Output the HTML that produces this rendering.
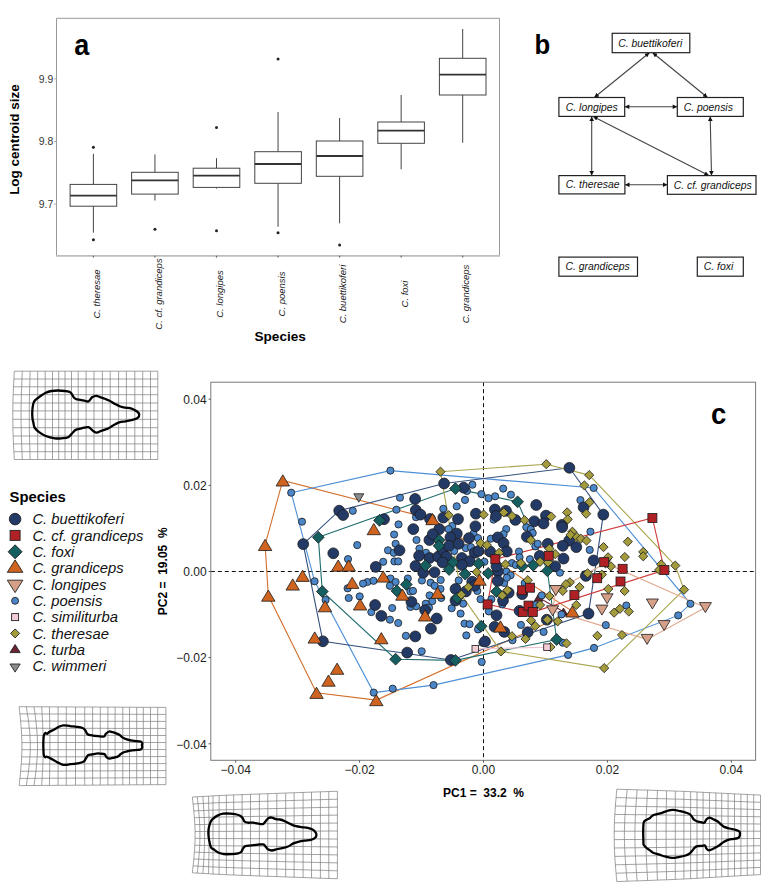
<!DOCTYPE html>
<html><head><meta charset="utf-8"><style>
html,body{margin:0;padding:0;background:#fff;}
svg{display:block;}
svg text{font-family:"Liberation Sans", sans-serif;}
</style></head><body>
<svg width="780" height="894" viewBox="0 0 780 894">
<defs><marker id="ah" viewBox="0 0 10 10" refX="10" refY="5" markerWidth="4.6" markerHeight="4.2" orient="auto-start-reverse" markerUnits="strokeWidth"><path d="M0 0L10 5L0 10Z" fill="#111"/></marker></defs>
<rect width="780" height="894" fill="#fff"/>
<g id="pa">
<path d="M56.5 255.9 L56.5 18.3 L499.5 18.3 L499.5 255.9" fill="none" stroke="#999" stroke-width="1"/><line x1="56" y1="255.9" x2="500" y2="255.9" stroke="#bdbdbd" stroke-width="1.7"/>
<text transform="translate(74.2,54.6) scale(0.9,1)" font-weight="bold" font-size="30" fill="#000">a</text>
<line x1="54.2" y1="78.8" x2="56.5" y2="78.8" stroke="#aaa" stroke-width="1"/>
<text x="53.3" y="82.5" text-anchor="end" font-size="10.4" fill="#333">9.9</text>
<line x1="54.2" y1="141.5" x2="56.5" y2="141.5" stroke="#aaa" stroke-width="1"/>
<text x="53.3" y="145.2" text-anchor="end" font-size="10.4" fill="#333">9.8</text>
<line x1="54.2" y1="204.1" x2="56.5" y2="204.1" stroke="#aaa" stroke-width="1"/>
<text x="53.3" y="207.8" text-anchor="end" font-size="10.4" fill="#333">9.7</text>
<text transform="translate(18.6,139.6) rotate(-90)" text-anchor="middle" font-weight="bold" font-size="13.45" fill="#000">Log centroid size</text>
<text x="280.2" y="340.9" text-anchor="middle" font-weight="bold" font-size="13.6" fill="#000">Species</text>
<line x1="93.4" y1="153.8" x2="93.4" y2="184.4" stroke="#444" stroke-width="1"/>
<line x1="93.4" y1="206.2" x2="93.4" y2="232.6" stroke="#444" stroke-width="1"/>
<rect x="70.1" y="184.4" width="46.6" height="21.8" fill="#fff" stroke="#444" stroke-width="1"/>
<line x1="70.1" y1="195.6" x2="116.7" y2="195.6" stroke="#333" stroke-width="1.8"/>
<circle cx="93.4" cy="147.2" r="1.5" fill="#222"/>
<circle cx="93.4" cy="239.7" r="1.5" fill="#222"/>
<line x1="93.4" y1="255.8" x2="93.4" y2="257.6" stroke="#666" stroke-width="1.2"/>
<text transform="translate(100.0,294) rotate(-90)" text-anchor="middle" font-style="italic" font-size="9.5" fill="#222">C. theresae</text>
<line x1="154.95" y1="154.4" x2="154.95" y2="172.3" stroke="#444" stroke-width="1"/>
<line x1="154.95" y1="194.1" x2="154.95" y2="200.5" stroke="#444" stroke-width="1"/>
<rect x="131.6" y="172.3" width="46.6" height="21.8" fill="#fff" stroke="#444" stroke-width="1"/>
<line x1="131.6" y1="180.3" x2="178.2" y2="180.3" stroke="#333" stroke-width="1.8"/>
<circle cx="154.95" cy="229.2" r="1.5" fill="#222"/>
<line x1="154.95" y1="255.8" x2="154.95" y2="257.6" stroke="#666" stroke-width="1.2"/>
<text transform="translate(161.5,294) rotate(-90)" text-anchor="middle" font-style="italic" font-size="9.5" fill="#222">C. cf. grandiceps</text>
<line x1="216.5" y1="158.2" x2="216.5" y2="168.2" stroke="#444" stroke-width="1"/>
<line x1="216.5" y1="187.4" x2="216.5" y2="188.6" stroke="#444" stroke-width="1"/>
<rect x="193.2" y="168.2" width="46.6" height="19.2" fill="#fff" stroke="#444" stroke-width="1"/>
<line x1="193.2" y1="175.6" x2="239.8" y2="175.6" stroke="#333" stroke-width="1.8"/>
<circle cx="216.5" cy="127.5" r="1.5" fill="#222"/>
<circle cx="216.5" cy="230.8" r="1.5" fill="#222"/>
<line x1="216.5" y1="255.8" x2="216.5" y2="257.6" stroke="#666" stroke-width="1.2"/>
<text transform="translate(223.1,294) rotate(-90)" text-anchor="middle" font-style="italic" font-size="9.5" fill="#222">C. longipes</text>
<line x1="278.05" y1="112.0" x2="278.05" y2="151.7" stroke="#444" stroke-width="1"/>
<line x1="278.05" y1="183.3" x2="278.05" y2="226.7" stroke="#444" stroke-width="1"/>
<rect x="254.8" y="151.7" width="46.6" height="31.6" fill="#fff" stroke="#444" stroke-width="1"/>
<line x1="254.8" y1="164.0" x2="301.4" y2="164.0" stroke="#333" stroke-width="1.8"/>
<circle cx="278.05" cy="59.0" r="1.5" fill="#222"/>
<circle cx="278.05" cy="232.7" r="1.5" fill="#222"/>
<line x1="278.05" y1="255.8" x2="278.05" y2="257.6" stroke="#666" stroke-width="1.2"/>
<text transform="translate(284.7,294) rotate(-90)" text-anchor="middle" font-style="italic" font-size="9.5" fill="#222">C. poensis</text>
<line x1="339.6" y1="118.0" x2="339.6" y2="141.0" stroke="#444" stroke-width="1"/>
<line x1="339.6" y1="176.3" x2="339.6" y2="223.3" stroke="#444" stroke-width="1"/>
<rect x="316.3" y="141.0" width="46.6" height="35.3" fill="#fff" stroke="#444" stroke-width="1"/>
<line x1="316.3" y1="156.0" x2="362.9" y2="156.0" stroke="#333" stroke-width="1.8"/>
<circle cx="339.6" cy="245.0" r="1.5" fill="#222"/>
<line x1="339.6" y1="255.8" x2="339.6" y2="257.6" stroke="#666" stroke-width="1.2"/>
<text transform="translate(346.2,294) rotate(-90)" text-anchor="middle" font-style="italic" font-size="9.5" fill="#222">C. buettikoferi</text>
<line x1="401.15" y1="95.0" x2="401.15" y2="122.0" stroke="#444" stroke-width="1"/>
<line x1="401.15" y1="143.3" x2="401.15" y2="169.3" stroke="#444" stroke-width="1"/>
<rect x="377.8" y="122.0" width="46.6" height="21.3" fill="#fff" stroke="#444" stroke-width="1"/>
<line x1="377.8" y1="130.7" x2="424.4" y2="130.7" stroke="#333" stroke-width="1.8"/>
<line x1="401.15" y1="255.8" x2="401.15" y2="257.6" stroke="#666" stroke-width="1.2"/>
<text transform="translate(407.8,294) rotate(-90)" text-anchor="middle" font-style="italic" font-size="9.5" fill="#222">C. foxi</text>
<line x1="462.7" y1="29.0" x2="462.7" y2="58.3" stroke="#444" stroke-width="1"/>
<line x1="462.7" y1="95.0" x2="462.7" y2="142.7" stroke="#444" stroke-width="1"/>
<rect x="439.4" y="58.3" width="46.6" height="36.7" fill="#fff" stroke="#444" stroke-width="1"/>
<line x1="439.4" y1="74.7" x2="486.0" y2="74.7" stroke="#333" stroke-width="1.8"/>
<line x1="462.7" y1="255.8" x2="462.7" y2="257.6" stroke="#666" stroke-width="1.2"/>
<text transform="translate(469.3,294) rotate(-90)" text-anchor="middle" font-style="italic" font-size="9.5" fill="#222">C. grandiceps</text>
</g>
<g id="pb">
<text transform="translate(534.6,54.3) scale(0.9,1)" font-weight="bold" font-size="28.5" fill="#000">b</text>
<rect x="612.2" y="33.3" width="77.6" height="19.4" fill="#fff" stroke="#222" stroke-width="1.2"/>
<text x="650.2" y="46.6" text-anchor="middle" font-style="italic" font-size="10.4" fill="#111">C. buettikoferi</text>
<rect x="558.9" y="97.5" width="65.8" height="18.9" fill="#fff" stroke="#222" stroke-width="1.2"/>
<text x="591.8" y="110.5" text-anchor="middle" font-style="italic" font-size="10.4" fill="#111">C. longipes</text>
<rect x="677.3" y="97.5" width="66.0" height="18.9" fill="#fff" stroke="#222" stroke-width="1.2"/>
<text x="708.3" y="110.5" text-anchor="middle" font-style="italic" font-size="10.4" fill="#111">C. poensis</text>
<rect x="558.9" y="175.6" width="66.0" height="18.3" fill="#fff" stroke="#222" stroke-width="1.2"/>
<text x="592.6" y="188.3" text-anchor="middle" font-style="italic" font-size="10.4" fill="#111">C. theresae</text>
<rect x="667.4" y="175.6" width="88.6" height="18.7" fill="#fff" stroke="#222" stroke-width="1.2"/>
<text x="712.7" y="188.5" text-anchor="middle" font-style="italic" font-size="10.4" fill="#111">C. cf. grandiceps</text>
<rect x="558.9" y="257.1" width="78.6" height="19.1" fill="#fff" stroke="#222" stroke-width="1.2"/>
<text x="597.6" y="270.2" text-anchor="middle" font-style="italic" font-size="10.4" fill="#111">C. grandiceps</text>
<rect x="697.3" y="257.1" width="46.0" height="19.1" fill="#fff" stroke="#222" stroke-width="1.2"/>
<text x="718.5" y="270.2" text-anchor="middle" font-style="italic" font-size="10.4" fill="#111">C. foxi</text>
<line x1="649.4" y1="52.7" x2="594.3" y2="97.5" stroke="#444" stroke-width="1.1" marker-start="url(#ah)" marker-end="url(#ah)"/>
<line x1="652.7" y1="52.7" x2="707.5" y2="97.5" stroke="#444" stroke-width="1.1" marker-start="url(#ah)" marker-end="url(#ah)"/>
<line x1="624.7" y1="106.7" x2="677.3" y2="106.7" stroke="#444" stroke-width="1.1" marker-start="url(#ah)" marker-end="url(#ah)"/>
<line x1="591.7" y1="116.4" x2="591.7" y2="175.6" stroke="#444" stroke-width="1.1" marker-start="url(#ah)" marker-end="url(#ah)"/>
<line x1="624.9" y1="184.8" x2="667.4" y2="184.8" stroke="#444" stroke-width="1.1" marker-start="url(#ah)" marker-end="url(#ah)"/>
<line x1="710.2" y1="116.4" x2="711.5" y2="175.6" stroke="#444" stroke-width="1.1" marker-start="url(#ah)" marker-end="url(#ah)"/>
<line x1="593.1" y1="116.4" x2="708.9" y2="175.6" stroke="#444" stroke-width="1.1" marker-start="url(#ah)" marker-end="url(#ah)"/>
</g>
<g fill="none" stroke="#7a7a7a" stroke-width="0.7">
<polyline points="14.3,371.2 18.3,371.2 22.3,371.2 26.2,371.2 30.1,371.2 33.9,371.2 37.7,371.2 41.5,371.2 45.2,371.2 48.9,371.2 52.5,371.2 55.6,371.2 58.7,371.2 61.9,371.2 65.0,371.2 68.2,371.2 71.5,371.2 74.8,371.2 78.2,371.2 82.2,371.2 86.1,371.2 90.0,371.2 94.0,371.2 98.2,371.2 102.4,371.2 106.3,371.2 110.2,371.2 114.4,371.2 118.6,371.2 122.5,371.2 126.4,371.2 130.6,371.2 134.8,371.2 138.8,371.2 142.7,371.2 146.6,371.2 150.5,371.2 154.2,371.2 157.8,371.2"/>
<polyline points="13.9,379.0 17.9,379.0 22.0,379.0 25.9,379.0 29.9,379.0 33.8,379.0 37.7,379.0 41.5,379.0 45.2,379.0 48.9,379.0 52.5,379.0 55.6,379.0 58.7,379.0 61.9,379.0 65.0,379.0 68.2,379.0 71.5,379.0 74.8,379.0 78.2,379.0 82.2,379.0 86.1,379.0 90.0,379.0 94.0,379.0 98.2,379.0 102.4,379.0 106.3,379.0 110.2,379.0 114.4,379.0 118.6,379.0 122.5,379.0 126.4,379.0 130.6,379.0 134.8,379.0 138.8,379.0 142.7,379.0 146.6,379.0 150.5,379.0 154.2,379.0 157.8,379.0"/>
<polyline points="13.5,386.8 17.6,386.8 21.7,386.8 25.7,386.8 29.7,386.8 33.7,386.8 37.7,386.8 41.5,386.8 45.2,386.8 48.9,386.8 52.5,386.8 55.6,386.8 58.7,386.8 61.9,386.8 65.0,386.8 68.2,386.8 71.5,386.8 74.8,386.8 78.2,386.8 82.2,386.8 86.1,386.8 90.0,386.8 94.0,386.8 98.2,386.8 102.4,386.8 106.3,386.8 110.2,386.8 114.4,386.8 118.6,386.8 122.5,386.8 126.4,386.8 130.6,386.8 134.8,386.8 138.8,386.8 142.7,386.8 146.6,386.8 150.5,386.8 154.2,386.8 157.8,386.8"/>
<polyline points="13.2,394.7 17.3,394.7 21.4,394.7 25.4,394.7 29.5,394.7 33.6,394.7 37.7,394.7 41.5,394.7 45.2,394.7 48.9,394.7 52.5,394.7 55.6,394.7 58.7,394.7 61.9,394.7 65.0,394.7 68.2,394.7 71.5,394.7 74.8,394.7 78.2,394.7 82.2,394.7 86.1,394.7 90.0,394.7 94.0,394.7 98.2,394.7 102.4,394.7 106.3,394.7 110.2,394.7 114.4,394.7 118.6,394.7 122.5,394.7 126.4,394.7 130.6,394.7 134.8,394.7 138.8,394.7 142.7,394.7 146.6,394.7 150.5,394.7 154.2,394.7 157.8,394.7"/>
<polyline points="12.9,403.0 17.1,403.0 21.2,403.0 25.3,403.0 29.4,403.0 33.5,403.0 37.7,403.0 41.5,403.0 45.2,403.0 48.9,403.0 52.5,403.0 55.6,403.0 58.7,403.0 61.9,403.0 65.0,403.0 68.2,403.0 71.5,403.0 74.8,403.0 78.2,403.0 82.2,403.0 86.1,403.0 90.0,403.0 94.0,403.0 98.2,403.0 102.4,403.0 106.3,403.0 110.2,403.0 114.4,403.0 118.6,403.0 122.5,403.0 126.4,403.0 130.6,403.0 134.8,403.0 138.8,403.0 142.7,403.0 146.6,403.0 150.5,403.0 154.2,403.0 157.8,403.0"/>
<polyline points="12.8,410.9 17.0,410.9 21.1,410.9 25.2,410.9 29.3,410.9 33.5,410.9 37.7,410.9 41.5,410.9 45.2,410.9 48.9,410.9 52.5,410.9 55.6,410.9 58.7,410.9 61.9,410.9 65.0,410.9 68.2,410.9 71.5,410.9 74.8,410.9 78.2,410.9 82.2,410.9 86.1,410.9 90.0,410.9 94.0,410.9 98.2,410.9 102.4,410.9 106.3,410.9 110.2,410.9 114.4,410.9 118.6,410.9 122.5,410.9 126.4,410.9 130.6,410.9 134.8,410.9 138.8,410.9 142.7,410.9 146.6,410.9 150.5,410.9 154.2,410.9 157.8,410.9"/>
<polyline points="12.8,419.3 17.0,419.3 21.1,419.3 25.2,419.3 29.3,419.3 33.5,419.3 37.7,419.3 41.5,419.3 45.2,419.3 48.9,419.3 52.5,419.3 55.6,419.3 58.7,419.3 61.9,419.3 65.0,419.3 68.2,419.3 71.5,419.3 74.8,419.3 78.2,419.3 82.2,419.3 86.1,419.3 90.0,419.3 94.0,419.3 98.2,419.3 102.4,419.3 106.3,419.3 110.2,419.3 114.4,419.3 118.6,419.3 122.5,419.3 126.4,419.3 130.6,419.3 134.8,419.3 138.8,419.3 142.7,419.3 146.6,419.3 150.5,419.3 154.2,419.3 157.8,419.3"/>
<polyline points="12.9,427.7 17.1,427.7 21.2,427.7 25.3,427.7 29.4,427.7 33.5,427.7 37.7,427.7 41.5,427.7 45.2,427.7 48.9,427.7 52.5,427.7 55.6,427.7 58.7,427.7 61.9,427.7 65.0,427.7 68.2,427.7 71.5,427.7 74.8,427.7 78.2,427.7 82.2,427.7 86.1,427.7 90.0,427.7 94.0,427.7 98.2,427.7 102.4,427.7 106.3,427.7 110.2,427.7 114.4,427.7 118.6,427.7 122.5,427.7 126.4,427.7 130.6,427.7 134.8,427.7 138.8,427.7 142.7,427.7 146.6,427.7 150.5,427.7 154.2,427.7 157.8,427.7"/>
<polyline points="13.2,436.0 17.3,436.0 21.4,436.0 25.4,436.0 29.5,436.0 33.6,436.0 37.7,436.0 41.5,436.0 45.2,436.0 48.9,436.0 52.5,436.0 55.6,436.0 58.7,436.0 61.9,436.0 65.0,436.0 68.2,436.0 71.5,436.0 74.8,436.0 78.2,436.0 82.2,436.0 86.1,436.0 90.0,436.0 94.0,436.0 98.2,436.0 102.4,436.0 106.3,436.0 110.2,436.0 114.4,436.0 118.6,436.0 122.5,436.0 126.4,436.0 130.6,436.0 134.8,436.0 138.8,436.0 142.7,436.0 146.6,436.0 150.5,436.0 154.2,436.0 157.8,436.0"/>
<polyline points="13.5,443.9 17.6,443.9 21.7,443.9 25.7,443.9 29.7,443.9 33.7,443.9 37.7,443.9 41.5,443.9 45.2,443.9 48.9,443.9 52.5,443.9 55.6,443.9 58.7,443.9 61.9,443.9 65.0,443.9 68.2,443.9 71.5,443.9 74.8,443.9 78.2,443.9 82.2,443.9 86.1,443.9 90.0,443.9 94.0,443.9 98.2,443.9 102.4,443.9 106.3,443.9 110.2,443.9 114.4,443.9 118.6,443.9 122.5,443.9 126.4,443.9 130.6,443.9 134.8,443.9 138.8,443.9 142.7,443.9 146.6,443.9 150.5,443.9 154.2,443.9 157.8,443.9"/>
<polyline points="13.9,451.7 17.9,451.7 22.0,451.7 25.9,451.7 29.9,451.7 33.8,451.7 37.7,451.7 41.5,451.7 45.2,451.7 48.9,451.7 52.5,451.7 55.6,451.7 58.7,451.7 61.9,451.7 65.0,451.7 68.2,451.7 71.5,451.7 74.8,451.7 78.2,451.7 82.2,451.7 86.1,451.7 90.0,451.7 94.0,451.7 98.2,451.7 102.4,451.7 106.3,451.7 110.2,451.7 114.4,451.7 118.6,451.7 122.5,451.7 126.4,451.7 130.6,451.7 134.8,451.7 138.8,451.7 142.7,451.7 146.6,451.7 150.5,451.7 154.2,451.7 157.8,451.7"/>
<polyline points="14.3,459.5 18.3,459.5 22.3,459.5 26.2,459.5 30.1,459.5 33.9,459.5 37.7,459.5 41.5,459.5 45.2,459.5 48.9,459.5 52.5,459.5 55.6,459.5 58.7,459.5 61.9,459.5 65.0,459.5 68.2,459.5 71.5,459.5 74.8,459.5 78.2,459.5 82.2,459.5 86.1,459.5 90.0,459.5 94.0,459.5 98.2,459.5 102.4,459.5 106.3,459.5 110.2,459.5 114.4,459.5 118.6,459.5 122.5,459.5 126.4,459.5 130.6,459.5 134.8,459.5 138.8,459.5 142.7,459.5 146.6,459.5 150.5,459.5 154.2,459.5 157.8,459.5"/>
<polyline points="14.3,371.2 14.1,375.1 13.9,379.0 13.7,382.9 13.5,386.8 13.3,390.8 13.2,394.7 13.0,398.9 12.9,403.0 12.9,406.9 12.8,410.9 12.8,415.1 12.8,419.3 12.9,423.5 12.9,427.7 13.0,431.9 13.2,436.0 13.3,439.9 13.5,443.9 13.7,447.8 13.9,451.7 14.1,455.6 14.3,459.5"/>
<polyline points="22.3,371.2 22.1,375.1 22.0,379.0 21.8,382.9 21.7,386.8 21.5,390.8 21.4,394.7 21.3,398.9 21.2,403.0 21.1,406.9 21.1,410.9 21.1,415.1 21.1,419.3 21.1,423.5 21.2,427.7 21.3,431.9 21.4,436.0 21.5,440.0 21.7,443.9 21.8,447.8 22.0,451.7 22.1,455.6 22.3,459.5"/>
<polyline points="30.1,371.2 30.0,375.1 29.9,379.0 29.8,382.9 29.7,386.8 29.6,390.8 29.5,394.7 29.4,398.9 29.4,403.0 29.3,406.9 29.3,410.9 29.3,415.1 29.3,419.3 29.3,423.5 29.4,427.7 29.4,431.9 29.5,436.0 29.6,439.9 29.7,443.9 29.8,447.8 29.9,451.7 30.0,455.6 30.1,459.5"/>
<polyline points="37.7,371.2 37.7,375.1 37.7,379.0 37.7,382.9 37.7,386.8 37.7,390.8 37.7,394.7 37.7,398.9 37.7,403.0 37.7,406.9 37.7,410.9 37.7,415.1 37.7,419.3 37.7,423.5 37.7,427.7 37.7,431.9 37.7,436.0 37.7,439.9 37.7,443.9 37.7,447.8 37.7,451.7 37.7,455.6 37.7,459.5"/>
<polyline points="45.2,371.2 45.2,375.1 45.2,379.0 45.2,382.9 45.2,386.8 45.2,390.8 45.2,394.7 45.2,398.9 45.2,403.0 45.2,406.9 45.2,410.9 45.2,415.1 45.2,419.3 45.2,423.5 45.2,427.7 45.2,431.9 45.2,436.0 45.2,439.9 45.2,443.9 45.2,447.8 45.2,451.7 45.2,455.6 45.2,459.5"/>
<polyline points="52.5,371.2 52.5,375.1 52.5,379.0 52.5,382.9 52.5,386.8 52.5,390.8 52.5,394.7 52.5,398.9 52.5,403.0 52.5,407.0 52.5,410.9 52.5,415.1 52.5,419.3 52.5,423.5 52.5,427.7 52.5,431.9 52.5,436.0 52.5,440.0 52.5,443.9 52.5,447.8 52.5,451.7 52.5,455.6 52.5,459.5"/>
<polyline points="58.7,371.2 58.7,375.1 58.7,379.0 58.7,382.9 58.7,386.8 58.7,390.8 58.7,394.7 58.7,398.9 58.7,403.0 58.7,406.9 58.7,410.9 58.7,415.1 58.7,419.3 58.7,423.5 58.7,427.7 58.7,431.9 58.7,436.0 58.7,440.0 58.7,443.9 58.7,447.8 58.7,451.7 58.7,455.6 58.7,459.5"/>
<polyline points="65.0,371.2 65.0,375.1 65.0,379.0 65.0,382.9 65.0,386.8 65.0,390.8 65.0,394.7 65.0,398.9 65.0,403.0 65.0,406.9 65.0,410.9 65.0,415.1 65.0,419.3 65.0,423.5 65.0,427.7 65.0,431.9 65.0,436.0 65.0,439.9 65.0,443.9 65.0,447.8 65.0,451.7 65.0,455.6 65.0,459.5"/>
<polyline points="71.5,371.2 71.5,375.1 71.5,379.0 71.5,382.9 71.5,386.8 71.5,390.8 71.5,394.7 71.5,398.9 71.5,403.0 71.5,406.9 71.5,410.9 71.5,415.1 71.5,419.3 71.5,423.5 71.5,427.7 71.5,431.9 71.5,436.0 71.5,439.9 71.5,443.9 71.5,447.8 71.5,451.7 71.5,455.6 71.5,459.5"/>
<polyline points="78.2,371.2 78.2,375.1 78.2,379.0 78.2,382.9 78.2,386.8 78.2,390.8 78.2,394.7 78.2,398.9 78.2,403.0 78.2,407.0 78.2,410.9 78.2,415.1 78.2,419.3 78.2,423.5 78.2,427.7 78.2,431.9 78.2,436.0 78.2,440.0 78.2,443.9 78.2,447.8 78.2,451.7 78.2,455.6 78.2,459.5"/>
<polyline points="86.1,371.2 86.1,375.1 86.1,379.0 86.1,382.9 86.1,386.8 86.1,390.8 86.1,394.7 86.1,398.9 86.1,403.0 86.1,406.9 86.1,410.9 86.1,415.1 86.1,419.3 86.1,423.5 86.1,427.7 86.1,431.9 86.1,436.0 86.1,439.9 86.1,443.9 86.1,447.8 86.1,451.7 86.1,455.6 86.1,459.5"/>
<polyline points="94.0,371.2 94.0,375.1 94.0,379.0 94.0,382.9 94.0,386.8 94.0,390.8 94.0,394.7 94.0,398.9 94.0,403.0 94.0,406.9 94.0,410.9 94.0,415.1 94.0,419.3 94.0,423.5 94.0,427.7 94.0,431.9 94.0,436.0 94.0,439.9 94.0,443.9 94.0,447.8 94.0,451.7 94.0,455.6 94.0,459.5"/>
<polyline points="102.4,371.2 102.4,375.1 102.4,379.0 102.4,382.9 102.4,386.8 102.4,390.8 102.4,394.7 102.4,398.9 102.4,403.0 102.4,406.9 102.4,410.9 102.4,415.1 102.4,419.3 102.4,423.5 102.4,427.7 102.4,431.9 102.4,436.0 102.4,440.0 102.4,443.9 102.4,447.8 102.4,451.7 102.4,455.6 102.4,459.5"/>
<polyline points="110.2,371.2 110.2,375.1 110.2,379.0 110.2,382.9 110.2,386.8 110.2,390.8 110.2,394.7 110.2,398.9 110.2,403.0 110.2,406.9 110.2,410.9 110.2,415.1 110.2,419.3 110.2,423.5 110.2,427.7 110.2,431.9 110.2,436.0 110.2,440.0 110.2,443.9 110.2,447.8 110.2,451.7 110.2,455.6 110.2,459.5"/>
<polyline points="118.6,371.2 118.6,375.1 118.6,379.0 118.6,382.9 118.6,386.8 118.6,390.8 118.6,394.7 118.6,398.9 118.6,403.0 118.6,406.9 118.6,410.9 118.6,415.1 118.6,419.3 118.6,423.5 118.6,427.7 118.6,431.9 118.6,436.0 118.6,439.9 118.6,443.9 118.6,447.8 118.6,451.7 118.6,455.6 118.6,459.5"/>
<polyline points="126.4,371.2 126.4,375.1 126.4,379.0 126.4,382.9 126.4,386.8 126.4,390.8 126.4,394.7 126.4,398.9 126.4,403.0 126.4,406.9 126.4,410.9 126.4,415.1 126.4,419.3 126.4,423.5 126.4,427.7 126.4,431.9 126.4,436.0 126.4,439.9 126.4,443.9 126.4,447.8 126.4,451.7 126.4,455.6 126.4,459.5"/>
<polyline points="134.8,371.2 134.8,375.1 134.8,379.0 134.8,382.9 134.8,386.8 134.8,390.8 134.8,394.7 134.8,398.9 134.8,403.0 134.8,406.9 134.8,410.9 134.8,415.1 134.8,419.3 134.8,423.5 134.8,427.7 134.8,431.9 134.8,436.0 134.8,439.9 134.8,443.9 134.8,447.8 134.8,451.7 134.8,455.6 134.8,459.5"/>
<polyline points="142.7,371.2 142.7,375.1 142.7,379.0 142.7,382.9 142.7,386.8 142.7,390.8 142.7,394.7 142.7,398.9 142.7,403.0 142.7,406.9 142.7,410.9 142.7,415.1 142.7,419.3 142.7,423.5 142.7,427.7 142.7,431.9 142.7,436.0 142.7,439.9 142.7,443.9 142.7,447.8 142.7,451.7 142.7,455.6 142.7,459.5"/>
<polyline points="150.5,371.2 150.5,375.1 150.5,379.0 150.5,382.9 150.5,386.8 150.5,390.8 150.5,394.7 150.5,398.9 150.5,403.0 150.5,407.0 150.5,410.9 150.5,415.1 150.5,419.3 150.5,423.5 150.5,427.7 150.5,431.9 150.5,436.0 150.5,439.9 150.5,443.9 150.5,447.8 150.5,451.7 150.5,455.6 150.5,459.5"/>
<polyline points="157.8,371.2 157.8,375.1 157.8,379.0 157.8,382.9 157.8,386.8 157.8,390.8 157.8,394.7 157.8,398.9 157.8,403.0 157.8,406.9 157.8,410.9 157.8,415.1 157.8,419.3 157.8,423.5 157.8,427.7 157.8,431.9 157.8,436.0 157.8,439.9 157.8,443.9 157.8,447.8 157.8,451.7 157.8,455.6 157.8,459.5"/>
</g>
<path d="M32.4 409.7 C32.6 407.3 33.0 404.7 33.5 403.0 C34.0 401.3 34.6 400.8 35.7 399.7 C36.8 398.6 38.5 397.5 40.2 396.3 C41.9 395.1 43.9 393.6 45.8 392.7 C47.7 391.8 49.3 391.4 51.4 391.0 C53.5 390.6 55.9 390.5 58.1 390.5 C60.3 390.5 62.8 390.7 64.8 391.0 C66.8 391.3 68.9 391.3 70.4 392.4 C72.0 393.5 73.0 396.6 74.1 397.8 C75.2 399.0 75.7 399.0 77.2 399.4 C78.7 399.8 81.4 400.1 83.3 400.4 C85.2 400.7 87.0 401.9 88.5 401.4 C90.0 400.9 90.8 398.2 92.1 397.3 C93.4 396.4 94.8 395.8 96.2 395.8 C97.7 395.8 99.3 396.8 100.8 397.3 C102.2 397.8 103.4 398.2 104.9 398.8 C106.4 399.4 108.3 400.0 110.0 400.9 C111.7 401.8 113.4 403.1 115.1 404.0 C116.8 404.9 118.6 405.9 120.3 406.5 C122.0 407.1 123.5 407.2 125.4 407.6 C127.3 408.0 129.6 408.0 131.5 408.6 C133.4 409.2 135.4 410.3 136.7 411.2 C138.0 412.1 139.0 413.1 139.2 414.2 C139.4 415.3 138.8 416.9 137.7 417.8 C136.6 418.8 134.6 419.3 132.6 419.9 C130.6 420.5 127.6 421.0 125.4 421.4 C123.2 421.8 121.2 421.7 119.2 422.4 C117.2 423.1 115.0 424.5 113.1 425.5 C111.2 426.5 109.8 427.8 107.9 428.6 C106.0 429.5 103.7 429.9 101.8 430.6 C99.9 431.3 98.2 432.7 96.7 432.7 C95.2 432.7 94.0 431.5 92.6 430.6 C91.2 429.7 90.2 427.5 88.5 427.1 C86.8 426.7 84.3 427.7 82.3 428.1 C80.2 428.5 77.7 428.9 76.2 429.6 C74.7 430.3 74.4 430.9 73.1 432.2 C71.8 433.5 70.1 436.2 68.2 437.2 C66.3 438.2 63.7 438.1 61.5 438.3 C59.3 438.5 57.4 438.7 54.8 438.3 C52.2 437.9 48.4 437.0 45.8 436.0 C43.2 435.0 41.0 433.5 39.1 432.1 C37.2 430.7 35.5 429.1 34.6 427.6 C33.7 426.1 33.9 424.9 33.5 423.2 C33.1 421.5 32.6 419.9 32.4 417.6 C32.2 415.4 32.2 412.1 32.4 409.7Z" fill="none" stroke="#000" stroke-width="2.3" stroke-linejoin="round"/>
<g fill="none" stroke="#7a7a7a" stroke-width="0.7">
<polyline points="19.1,706.7 22.7,706.7 26.3,706.7 30.1,706.8 34.0,706.8 37.9,706.8 41.7,706.8 45.5,706.8 49.4,706.8 53.8,706.9 58.1,706.9 62.2,706.9 66.3,706.9 70.9,706.9 75.5,707.0 80.1,707.0 84.7,707.0 88.7,707.0 92.6,707.0 96.4,707.0 100.3,707.1 104.1,707.1 107.9,707.1 111.5,707.1 115.1,707.1 118.9,707.2 122.8,707.2 126.2,707.2 129.5,707.2 133.1,707.2 136.7,707.3 140.0,707.3 143.3,707.3 146.9,707.3 150.5,707.3 154.1,707.3 157.7,707.4 161.8,707.4 165.9,707.4"/>
<polyline points="19.9,713.9 23.7,713.9 27.4,713.9 31.2,713.9 35.0,713.9 38.6,713.9 42.1,714.0 45.8,714.0 49.5,714.0 53.8,714.0 58.1,714.0 62.2,714.0 66.3,714.0 70.9,714.1 75.5,714.1 80.1,714.1 84.7,714.1 88.7,714.1 92.6,714.1 96.4,714.1 100.3,714.2 104.1,714.2 107.9,714.2 111.5,714.2 115.1,714.2 118.9,714.2 122.8,714.2 126.2,714.3 129.5,714.3 133.1,714.3 136.7,714.3 140.0,714.3 143.3,714.3 146.9,714.3 150.5,714.4 154.1,714.4 157.7,714.4 161.8,714.4 165.9,714.4"/>
<polyline points="20.6,721.0 24.5,721.1 28.5,721.1 32.2,721.1 35.9,721.1 39.2,721.1 42.5,721.1 46.1,721.1 49.7,721.1 53.9,721.1 58.1,721.1 62.2,721.2 66.3,721.2 70.9,721.2 75.5,721.2 80.1,721.2 84.7,721.2 88.7,721.2 92.6,721.2 96.4,721.2 100.3,721.3 104.1,721.3 107.9,721.3 111.5,721.3 115.1,721.3 118.9,721.3 122.8,721.3 126.2,721.3 129.5,721.3 133.1,721.3 136.7,721.4 140.0,721.4 143.3,721.4 146.9,721.4 150.5,721.4 154.1,721.4 157.7,721.4 161.8,721.4 165.9,721.4"/>
<polyline points="21.2,728.2 25.3,728.2 29.3,728.2 33.0,728.2 36.6,728.2 39.7,728.2 42.8,728.3 46.3,728.3 49.8,728.3 53.9,728.3 58.1,728.3 62.2,728.3 66.3,728.3 70.9,728.3 75.5,728.3 80.1,728.3 84.7,728.3 88.7,728.3 92.6,728.3 96.4,728.3 100.3,728.3 104.1,728.3 107.9,728.4 111.5,728.4 115.1,728.4 118.9,728.4 122.8,728.4 126.2,728.4 129.5,728.4 133.1,728.4 136.7,728.4 140.0,728.4 143.3,728.4 146.9,728.4 150.5,728.4 154.1,728.4 157.7,728.4 161.8,728.4 165.9,728.5"/>
<polyline points="21.6,735.4 25.8,735.4 29.9,735.4 33.6,735.4 37.2,735.4 40.1,735.4 43.1,735.4 46.5,735.4 49.9,735.4 54.0,735.4 58.1,735.4 62.2,735.4 66.3,735.4 70.9,735.4 75.5,735.4 80.1,735.4 84.7,735.4 88.7,735.4 92.6,735.4 96.4,735.4 100.3,735.4 104.1,735.4 107.9,735.4 111.5,735.4 115.1,735.4 118.9,735.4 122.8,735.4 126.2,735.4 129.5,735.5 133.1,735.5 136.7,735.5 140.0,735.5 143.3,735.5 146.9,735.5 150.5,735.5 154.1,735.5 157.7,735.5 161.8,735.5 165.9,735.5"/>
<polyline points="21.9,742.6 26.1,742.6 30.3,742.6 33.9,742.6 37.5,742.6 40.3,742.6 43.2,742.6 46.5,742.6 49.9,742.5 54.0,742.5 58.1,742.5 62.2,742.5 66.3,742.5 70.9,742.5 75.5,742.5 80.1,742.5 84.7,742.5 88.7,742.5 92.6,742.5 96.4,742.5 100.3,742.5 104.1,742.5 107.9,742.5 111.5,742.5 115.1,742.5 118.9,742.5 122.8,742.5 126.2,742.5 129.5,742.5 133.1,742.5 136.7,742.5 140.0,742.5 143.3,742.5 146.9,742.5 150.5,742.5 154.1,742.5 157.7,742.5 161.8,742.5 165.9,742.5"/>
<polyline points="21.9,749.7 26.1,749.7 30.3,749.7 33.9,749.7 37.5,749.7 40.3,749.7 43.2,749.7 46.5,749.7 49.9,749.7 54.0,749.7 58.1,749.7 62.2,749.7 66.3,749.7 70.9,749.7 75.5,749.7 80.1,749.6 84.7,749.6 88.7,749.6 92.6,749.6 96.4,749.6 100.3,749.6 104.1,749.6 107.9,749.6 111.5,749.6 115.1,749.6 118.9,749.6 122.8,749.6 126.2,749.6 129.5,749.6 133.1,749.6 136.7,749.6 140.0,749.6 143.3,749.5 146.9,749.5 150.5,749.5 154.1,749.5 157.7,749.5 161.8,749.5 165.9,749.5"/>
<polyline points="21.6,756.9 25.8,756.9 29.9,756.9 33.6,756.9 37.2,756.9 40.1,756.9 43.1,756.8 46.5,756.8 49.9,756.8 54.0,756.8 58.1,756.8 62.2,756.8 66.3,756.8 70.9,756.8 75.5,756.8 80.1,756.8 84.7,756.7 88.7,756.7 92.6,756.7 96.4,756.7 100.3,756.7 104.1,756.7 107.9,756.7 111.5,756.7 115.1,756.7 118.9,756.7 122.8,756.6 126.2,756.6 129.5,756.6 133.1,756.6 136.7,756.6 140.0,756.6 143.3,756.6 146.9,756.6 150.5,756.6 154.1,756.6 157.7,756.5 161.8,756.5 165.9,756.5"/>
<polyline points="21.2,764.1 25.3,764.1 29.3,764.1 33.0,764.0 36.6,764.0 39.7,764.0 42.8,764.0 46.3,764.0 49.8,764.0 53.9,764.0 58.1,763.9 62.2,763.9 66.3,763.9 70.9,763.9 75.5,763.9 80.1,763.9 84.7,763.9 88.7,763.8 92.6,763.8 96.4,763.8 100.3,763.8 104.1,763.8 107.9,763.8 111.5,763.8 115.1,763.7 118.9,763.7 122.8,763.7 126.2,763.7 129.5,763.7 133.1,763.7 136.7,763.7 140.0,763.6 143.3,763.6 146.9,763.6 150.5,763.6 154.1,763.6 157.7,763.6 161.8,763.6 165.9,763.5"/>
<polyline points="20.6,771.3 24.5,771.2 28.5,771.2 32.2,771.2 35.9,771.2 39.2,771.2 42.5,771.1 46.1,771.1 49.7,771.1 53.9,771.1 58.1,771.1 62.2,771.1 66.3,771.0 70.9,771.0 75.5,771.0 80.1,771.0 84.7,771.0 88.7,770.9 92.6,770.9 96.4,770.9 100.3,770.9 104.1,770.9 107.9,770.9 111.5,770.8 115.1,770.8 118.9,770.8 122.8,770.8 126.2,770.8 129.5,770.7 133.1,770.7 136.7,770.7 140.0,770.7 143.3,770.7 146.9,770.7 150.5,770.6 154.1,770.6 157.7,770.6 161.8,770.6 165.9,770.6"/>
<polyline points="19.9,778.4 23.7,778.4 27.4,778.4 31.2,778.4 35.0,778.3 38.6,778.3 42.1,778.3 45.8,778.3 49.5,778.2 53.8,778.2 58.1,778.2 62.2,778.2 66.3,778.2 70.9,778.1 75.5,778.1 80.1,778.1 84.7,778.1 88.7,778.0 92.6,778.0 96.4,778.0 100.3,778.0 104.1,778.0 107.9,777.9 111.5,777.9 115.1,777.9 118.9,777.9 122.8,777.8 126.2,777.8 129.5,777.8 133.1,777.8 136.7,777.8 140.0,777.7 143.3,777.7 146.9,777.7 150.5,777.7 154.1,777.6 157.7,777.6 161.8,777.6 165.9,777.6"/>
<polyline points="19.1,785.6 22.7,785.6 26.3,785.5 30.1,785.5 34.0,785.5 37.9,785.5 41.7,785.4 45.5,785.4 49.4,785.4 53.8,785.4 58.1,785.3 62.2,785.3 66.3,785.3 70.9,785.3 75.5,785.2 80.1,785.2 84.7,785.2 88.7,785.2 92.6,785.1 96.4,785.1 100.3,785.1 104.1,785.0 107.9,785.0 111.5,785.0 115.1,785.0 118.9,784.9 122.8,784.9 126.2,784.9 129.5,784.9 133.1,784.8 136.7,784.8 140.0,784.8 143.3,784.8 146.9,784.7 150.5,784.7 154.1,784.7 157.7,784.7 161.8,784.6 165.9,784.6"/>
<polyline points="19.1,706.7 19.5,710.3 19.9,713.9 20.3,717.5 20.6,721.0 20.9,724.6 21.2,728.2 21.5,731.8 21.6,735.4 21.8,739.0 21.9,742.6 21.9,746.2 21.9,749.7 21.8,753.3 21.6,756.9 21.5,760.5 21.2,764.1 20.9,767.7 20.6,771.3 20.3,774.8 19.9,778.4 19.5,782.0 19.1,785.6"/>
<polyline points="26.3,706.7 26.9,710.3 27.4,713.9 28.0,717.5 28.5,721.1 28.9,724.6 29.3,728.2 29.7,731.8 29.9,735.4 30.1,739.0 30.3,742.6 30.3,746.1 30.3,749.7 30.1,753.3 29.9,756.9 29.7,760.5 29.3,764.1 28.9,767.6 28.5,771.2 28.0,774.8 27.4,778.4 26.9,782.0 26.3,785.5"/>
<polyline points="34.0,706.8 34.5,710.4 35.0,713.9 35.5,717.5 35.9,721.1 36.3,724.7 36.6,728.2 36.9,731.8 37.2,735.4 37.4,739.0 37.5,742.6 37.5,746.1 37.5,749.7 37.4,753.3 37.2,756.9 36.9,760.4 36.6,764.0 36.3,767.6 35.9,771.2 35.5,774.8 35.0,778.3 34.5,781.9 34.0,785.5"/>
<polyline points="41.7,706.8 41.9,710.4 42.1,714.0 42.3,717.5 42.5,721.1 42.7,724.7 42.8,728.3 43.0,731.8 43.1,735.4 43.1,739.0 43.2,742.6 43.2,746.1 43.2,749.7 43.1,753.3 43.1,756.8 43.0,760.4 42.8,764.0 42.7,767.6 42.5,771.1 42.3,774.7 42.1,778.3 41.9,781.9 41.7,785.4"/>
<polyline points="49.4,706.8 49.5,710.4 49.5,714.0 49.6,717.6 49.7,721.1 49.7,724.7 49.8,728.3 49.8,731.8 49.9,735.4 49.9,739.0 49.9,742.5 49.9,746.1 49.9,749.7 49.9,753.3 49.9,756.8 49.8,760.4 49.8,764.0 49.7,767.5 49.7,771.1 49.6,774.7 49.5,778.2 49.5,781.8 49.4,785.4"/>
<polyline points="58.1,706.9 58.1,710.5 58.1,714.0 58.1,717.6 58.1,721.1 58.1,724.7 58.1,728.3 58.1,731.8 58.1,735.4 58.1,739.0 58.1,742.5 58.1,746.1 58.1,749.7 58.1,753.2 58.1,756.8 58.1,760.4 58.1,763.9 58.1,767.5 58.1,771.1 58.1,774.6 58.1,778.2 58.1,781.8 58.1,785.3"/>
<polyline points="66.3,706.9 66.3,710.5 66.3,714.0 66.3,717.6 66.3,721.2 66.3,724.7 66.3,728.3 66.3,731.9 66.3,735.4 66.3,739.0 66.3,742.5 66.3,746.1 66.3,749.7 66.3,753.2 66.3,756.8 66.3,760.4 66.3,763.9 66.3,767.5 66.3,771.0 66.3,774.6 66.3,778.2 66.3,781.7 66.3,785.3"/>
<polyline points="75.5,707.0 75.5,710.5 75.5,714.1 75.5,717.6 75.5,721.2 75.5,724.7 75.5,728.3 75.5,731.9 75.5,735.4 75.5,739.0 75.5,742.5 75.5,746.1 75.5,749.7 75.5,753.2 75.5,756.8 75.5,760.3 75.5,763.9 75.5,767.4 75.5,771.0 75.5,774.6 75.5,778.1 75.5,781.7 75.5,785.2"/>
<polyline points="84.7,707.0 84.7,710.5 84.7,714.1 84.7,717.7 84.7,721.2 84.7,724.8 84.7,728.3 84.7,731.9 84.7,735.4 84.7,739.0 84.7,742.5 84.7,746.1 84.7,749.6 84.7,753.2 84.7,756.7 84.7,760.3 84.7,763.9 84.7,767.4 84.7,771.0 84.7,774.5 84.7,778.1 84.7,781.6 84.7,785.2"/>
<polyline points="92.6,707.0 92.6,710.6 92.6,714.1 92.6,717.7 92.6,721.2 92.6,724.8 92.6,728.3 92.6,731.9 92.6,735.4 92.6,739.0 92.6,742.5 92.6,746.1 92.6,749.6 92.6,753.2 92.6,756.7 92.6,760.3 92.6,763.8 92.6,767.4 92.6,770.9 92.6,774.5 92.6,778.0 92.6,781.6 92.6,785.1"/>
<polyline points="100.3,707.1 100.3,710.6 100.3,714.2 100.3,717.7 100.3,721.3 100.3,724.8 100.3,728.3 100.3,731.9 100.3,735.4 100.3,739.0 100.3,742.5 100.3,746.1 100.3,749.6 100.3,753.2 100.3,756.7 100.3,760.3 100.3,763.8 100.3,767.3 100.3,770.9 100.3,774.4 100.3,778.0 100.3,781.5 100.3,785.1"/>
<polyline points="107.9,707.1 107.9,710.6 107.9,714.2 107.9,717.7 107.9,721.3 107.9,724.8 107.9,728.4 107.9,731.9 107.9,735.4 107.9,739.0 107.9,742.5 107.9,746.1 107.9,749.6 107.9,753.1 107.9,756.7 107.9,760.2 107.9,763.8 107.9,767.3 107.9,770.9 107.9,774.4 107.9,777.9 107.9,781.5 107.9,785.0"/>
<polyline points="115.1,707.1 115.1,710.7 115.1,714.2 115.1,717.8 115.1,721.3 115.1,724.8 115.1,728.4 115.1,731.9 115.1,735.4 115.1,739.0 115.1,742.5 115.1,746.1 115.1,749.6 115.1,753.1 115.1,756.7 115.1,760.2 115.1,763.7 115.1,767.3 115.1,770.8 115.1,774.4 115.1,777.9 115.1,781.4 115.1,785.0"/>
<polyline points="122.8,707.2 122.8,710.7 122.8,714.2 122.8,717.8 122.8,721.3 122.8,724.8 122.8,728.4 122.8,731.9 122.8,735.4 122.8,739.0 122.8,742.5 122.8,746.0 122.8,749.6 122.8,753.1 122.8,756.6 122.8,760.2 122.8,763.7 122.8,767.2 122.8,770.8 122.8,774.3 122.8,777.8 122.8,781.4 122.8,784.9"/>
<polyline points="129.5,707.2 129.5,710.7 129.5,714.3 129.5,717.8 129.5,721.3 129.5,724.9 129.5,728.4 129.5,731.9 129.5,735.5 129.5,739.0 129.5,742.5 129.5,746.0 129.5,749.6 129.5,753.1 129.5,756.6 129.5,760.2 129.5,763.7 129.5,767.2 129.5,770.7 129.5,774.3 129.5,777.8 129.5,781.3 129.5,784.9"/>
<polyline points="136.7,707.3 136.7,710.8 136.7,714.3 136.7,717.8 136.7,721.4 136.7,724.9 136.7,728.4 136.7,731.9 136.7,735.5 136.7,739.0 136.7,742.5 136.7,746.0 136.7,749.6 136.7,753.1 136.7,756.6 136.7,760.1 136.7,763.7 136.7,767.2 136.7,770.7 136.7,774.2 136.7,777.8 136.7,781.3 136.7,784.8"/>
<polyline points="143.3,707.3 143.3,710.8 143.3,714.3 143.3,717.9 143.3,721.4 143.3,724.9 143.3,728.4 143.3,731.9 143.3,735.5 143.3,739.0 143.3,742.5 143.3,746.0 143.3,749.5 143.3,753.1 143.3,756.6 143.3,760.1 143.3,763.6 143.3,767.2 143.3,770.7 143.3,774.2 143.3,777.7 143.3,781.2 143.3,784.8"/>
<polyline points="150.5,707.3 150.5,710.8 150.5,714.4 150.5,717.9 150.5,721.4 150.5,724.9 150.5,728.4 150.5,731.9 150.5,735.5 150.5,739.0 150.5,742.5 150.5,746.0 150.5,749.5 150.5,753.1 150.5,756.6 150.5,760.1 150.5,763.6 150.5,767.1 150.5,770.6 150.5,774.2 150.5,777.7 150.5,781.2 150.5,784.7"/>
<polyline points="157.7,707.4 157.7,710.9 157.7,714.4 157.7,717.9 157.7,721.4 157.7,724.9 157.7,728.4 157.7,732.0 157.7,735.5 157.7,739.0 157.7,742.5 157.7,746.0 157.7,749.5 157.7,753.0 157.7,756.5 157.7,760.1 157.7,763.6 157.7,767.1 157.7,770.6 157.7,774.1 157.7,777.6 157.7,781.1 157.7,784.7"/>
<polyline points="165.9,707.4 165.9,710.9 165.9,714.4 165.9,717.9 165.9,721.4 165.9,724.9 165.9,728.5 165.9,732.0 165.9,735.5 165.9,739.0 165.9,742.5 165.9,746.0 165.9,749.5 165.9,753.0 165.9,756.5 165.9,760.0 165.9,763.5 165.9,767.1 165.9,770.6 165.9,774.1 165.9,777.6 165.9,781.1 165.9,784.6"/>
</g>
<path d="M43.4 741.1 C43.5 738.9 43.5 737.1 43.8 735.7 C44.1 734.4 44.7 733.3 45.3 733.0 C45.9 732.7 46.5 734.0 47.2 733.8 C47.9 733.6 48.3 732.5 49.5 731.8 C50.7 731.1 52.7 730.3 54.2 729.5 C55.8 728.7 57.3 727.5 58.8 726.8 C60.3 726.1 61.5 725.4 63.4 725.3 C65.3 725.2 68.1 725.9 70.3 726.1 C72.5 726.4 74.5 726.5 76.5 726.8 C78.5 727.1 81.1 727.4 82.6 728.0 C84.1 728.6 84.5 729.3 85.3 730.3 C86.1 731.3 86.5 733.4 87.6 734.2 C88.7 735.0 90.1 735.0 91.8 735.3 C93.5 735.6 95.9 735.9 98.0 736.1 C100.1 736.3 102.9 736.9 104.2 736.5 C105.5 736.1 104.8 734.8 105.6 734.0 C106.4 733.2 107.9 731.8 109.1 731.5 C110.3 731.2 111.3 731.9 112.6 732.2 C113.9 732.6 115.7 733.1 116.9 733.6 C118.1 734.1 118.8 734.4 119.7 735.0 C120.6 735.6 121.3 736.8 122.5 737.5 C123.7 738.2 125.0 738.8 126.7 739.3 C128.3 739.8 130.2 740.4 132.4 740.7 C134.6 741.1 138.4 741.0 140.1 741.4 C141.8 741.8 142.0 742.6 142.3 743.2 C142.6 743.9 141.9 744.7 141.9 745.3 C141.9 745.9 142.4 746.4 142.3 747.0 C142.2 747.6 142.0 748.7 141.2 749.2 C140.4 749.7 139.1 749.7 137.3 749.9 C135.5 750.1 132.4 750.2 130.3 750.6 C128.2 751.0 126.1 751.5 124.6 752.0 C123.1 752.5 122.1 753.0 121.1 753.7 C120.0 754.4 119.5 755.6 118.3 756.2 C117.1 756.9 115.5 757.2 114.0 757.6 C112.5 758.0 110.4 758.8 109.1 758.7 C107.8 758.6 107.1 757.7 106.3 756.9 C105.5 756.1 105.5 754.6 104.5 754.1 C103.5 753.6 101.7 753.8 100.6 753.7 C99.5 753.6 99.5 753.3 98.0 753.4 C96.5 753.5 93.5 754.2 91.8 754.5 C90.1 754.8 89.0 754.6 88.0 755.3 C87.0 756.0 86.5 757.7 85.7 758.8 C84.9 759.9 84.8 761.0 83.4 761.8 C82.0 762.6 79.4 763.0 77.2 763.4 C75.0 763.8 72.6 764.0 70.3 764.2 C68.0 764.5 65.5 765.2 63.4 764.9 C61.4 764.6 59.7 763.4 58.0 762.6 C56.3 761.8 55.2 760.9 53.4 759.9 C51.6 758.9 48.6 757.2 47.2 756.8 C45.9 756.3 45.9 757.5 45.3 757.2 C44.7 756.9 44.1 756.3 43.8 754.9 C43.5 753.5 43.5 751.1 43.4 748.8 C43.3 746.5 43.3 743.3 43.4 741.1Z" fill="none" stroke="#000" stroke-width="2.3" stroke-linejoin="round"/>
<g fill="none" stroke="#7a7a7a" stroke-width="0.7">
<polyline points="192.3,797.1 194.8,796.9 197.3,796.8 200.1,796.6 202.9,796.5 205.7,796.3 208.5,796.2 210.8,796.0 213.0,795.9 216.1,795.7 219.1,795.5 222.8,795.4 226.4,795.2 230.1,795.1 233.7,794.9 237.9,794.8 242.1,794.6 246.3,794.5 250.5,794.3 254.9,794.2 259.4,794.0 263.6,793.8 267.8,793.7 272.3,793.5 276.8,793.4 281.2,793.2 285.7,793.1 289.9,792.9 294.1,792.8 298.6,792.6 303.1,792.4 307.3,792.3 311.5,792.1 315.9,792.0 320.4,791.8 324.6,791.7 328.8,791.5 333.1,791.4 337.4,791.2"/>
<polyline points="193.1,804.0 195.6,803.9 198.0,803.7 200.7,803.6 203.4,803.5 206.0,803.3 208.7,803.2 210.8,803.1 213.0,803.0 216.1,802.8 219.1,802.7 222.8,802.6 226.4,802.5 230.1,802.3 233.7,802.2 237.9,802.1 242.1,802.0 246.3,801.8 250.5,801.7 254.9,801.6 259.4,801.4 263.6,801.3 267.8,801.2 272.3,801.1 276.8,800.9 281.2,800.8 285.7,800.7 289.9,800.6 294.1,800.4 298.6,800.3 303.1,800.2 307.3,800.1 311.5,799.9 315.9,799.8 320.4,799.7 324.6,799.5 328.8,799.4 333.1,799.3 337.4,799.2"/>
<polyline points="193.8,810.9 196.3,810.8 198.7,810.7 201.3,810.6 203.8,810.5 206.3,810.4 208.8,810.3 210.9,810.2 213.0,810.1 216.1,810.0 219.1,809.9 222.8,809.8 226.4,809.7 230.1,809.6 233.7,809.5 237.9,809.4 242.1,809.3 246.3,809.2 250.5,809.1 254.9,809.0 259.4,808.9 263.6,808.8 267.8,808.7 272.3,808.6 276.8,808.5 281.2,808.4 285.7,808.3 289.9,808.2 294.1,808.1 298.6,808.0 303.1,807.9 307.3,807.8 311.5,807.7 315.9,807.6 320.4,807.5 324.6,807.4 328.8,807.3 333.1,807.2 337.4,807.1"/>
<polyline points="194.4,817.7 196.8,817.7 199.3,817.6 201.7,817.5 204.2,817.5 206.6,817.4 209.0,817.3 211.0,817.3 213.0,817.2 216.1,817.1 219.1,817.0 222.8,817.0 226.4,816.9 230.1,816.8 233.7,816.8 237.9,816.7 242.1,816.6 246.3,816.6 250.5,816.5 254.9,816.4 259.4,816.3 263.6,816.3 267.8,816.2 272.3,816.1 276.8,816.1 281.2,816.0 285.7,815.9 289.9,815.9 294.1,815.8 298.6,815.7 303.1,815.6 307.3,815.6 311.5,815.5 315.9,815.4 320.4,815.4 324.6,815.3 328.8,815.2 333.1,815.2 337.4,815.1"/>
<polyline points="194.8,824.6 197.3,824.6 199.7,824.5 202.1,824.5 204.4,824.5 206.7,824.4 209.0,824.4 211.0,824.3 213.0,824.3 216.1,824.3 219.1,824.2 222.8,824.2 226.4,824.1 230.1,824.1 233.7,824.0 237.9,824.0 242.1,824.0 246.3,823.9 250.5,823.9 254.9,823.8 259.4,823.8 263.6,823.8 267.8,823.7 272.3,823.7 276.8,823.6 281.2,823.6 285.7,823.6 289.9,823.5 294.1,823.5 298.6,823.4 303.1,823.4 307.3,823.3 311.5,823.3 315.9,823.3 320.4,823.2 324.6,823.2 328.8,823.1 333.1,823.1 337.4,823.1"/>
<polyline points="195.1,831.5 197.5,831.5 199.9,831.5 202.2,831.5 204.6,831.5 206.8,831.4 209.1,831.4 211.0,831.4 213.0,831.4 216.1,831.4 219.1,831.4 222.8,831.4 226.4,831.4 230.1,831.3 233.7,831.3 237.9,831.3 242.1,831.3 246.3,831.3 250.5,831.3 254.9,831.3 259.4,831.3 263.6,831.2 267.8,831.2 272.3,831.2 276.8,831.2 281.2,831.2 285.7,831.2 289.9,831.2 294.1,831.1 298.6,831.1 303.1,831.1 307.3,831.1 311.5,831.1 315.9,831.1 320.4,831.1 324.6,831.1 328.8,831.0 333.1,831.0 337.4,831.0"/>
<polyline points="195.1,838.4 197.5,838.4 199.9,838.4 202.2,838.4 204.6,838.5 206.8,838.5 209.1,838.5 211.0,838.5 213.0,838.5 216.1,838.5 219.1,838.5 222.8,838.6 226.4,838.6 230.1,838.6 233.7,838.6 237.9,838.6 242.1,838.6 246.3,838.7 250.5,838.7 254.9,838.7 259.4,838.7 263.6,838.7 267.8,838.7 272.3,838.7 276.8,838.8 281.2,838.8 285.7,838.8 289.9,838.8 294.1,838.8 298.6,838.8 303.1,838.9 307.3,838.9 311.5,838.9 315.9,838.9 320.4,838.9 324.6,838.9 328.8,839.0 333.1,839.0 337.4,839.0"/>
<polyline points="194.8,845.3 197.3,845.3 199.7,845.4 202.1,845.4 204.4,845.4 206.7,845.5 209.0,845.5 211.0,845.6 213.0,845.6 216.1,845.7 219.1,845.7 222.8,845.8 226.4,845.8 230.1,845.8 233.7,845.9 237.9,845.9 242.1,846.0 246.3,846.0 250.5,846.1 254.9,846.1 259.4,846.2 263.6,846.2 267.8,846.2 272.3,846.3 276.8,846.3 281.2,846.4 285.7,846.4 289.9,846.5 294.1,846.5 298.6,846.5 303.1,846.6 307.3,846.6 311.5,846.7 315.9,846.7 320.4,846.8 324.6,846.8 328.8,846.9 333.1,846.9 337.4,846.9"/>
<polyline points="194.4,852.2 196.8,852.2 199.3,852.3 201.7,852.4 204.2,852.4 206.6,852.5 209.0,852.6 211.0,852.7 213.0,852.7 216.1,852.8 219.1,852.9 222.8,853.0 226.4,853.0 230.1,853.1 233.7,853.2 237.9,853.2 242.1,853.3 246.3,853.4 250.5,853.5 254.9,853.5 259.4,853.6 263.6,853.7 267.8,853.7 272.3,853.8 276.8,853.9 281.2,854.0 285.7,854.0 289.9,854.1 294.1,854.2 298.6,854.3 303.1,854.3 307.3,854.4 311.5,854.5 315.9,854.5 320.4,854.6 324.6,854.7 328.8,854.8 333.1,854.8 337.4,854.9"/>
<polyline points="193.8,859.0 196.3,859.1 198.7,859.2 201.3,859.3 203.8,859.4 206.3,859.5 208.8,859.6 210.9,859.7 213.0,859.8 216.1,859.9 219.1,860.0 222.8,860.1 226.4,860.2 230.1,860.3 233.7,860.4 237.9,860.6 242.1,860.7 246.3,860.8 250.5,860.9 254.9,861.0 259.4,861.1 263.6,861.2 267.8,861.3 272.3,861.4 276.8,861.5 281.2,861.6 285.7,861.7 289.9,861.8 294.1,861.9 298.6,862.0 303.1,862.1 307.3,862.2 311.5,862.3 315.9,862.4 320.4,862.5 324.6,862.6 328.8,862.7 333.1,862.8 337.4,862.9"/>
<polyline points="193.1,865.9 195.6,866.0 198.0,866.2 200.7,866.3 203.4,866.4 206.0,866.6 208.7,866.7 210.8,866.8 213.0,867.0 216.1,867.1 219.1,867.2 222.8,867.3 226.4,867.5 230.1,867.6 233.7,867.7 237.9,867.9 242.1,868.0 246.3,868.1 250.5,868.2 254.9,868.4 259.4,868.5 263.6,868.6 267.8,868.8 272.3,868.9 276.8,869.0 281.2,869.2 285.7,869.3 289.9,869.4 294.1,869.5 298.6,869.7 303.1,869.8 307.3,869.9 311.5,870.1 315.9,870.2 320.4,870.3 324.6,870.4 328.8,870.6 333.1,870.7 337.4,870.8"/>
<polyline points="192.3,872.8 194.8,873.0 197.3,873.1 200.1,873.3 202.9,873.4 205.7,873.6 208.5,873.7 210.8,873.9 213.0,874.1 216.1,874.2 219.1,874.4 222.8,874.5 226.4,874.7 230.1,874.9 233.7,875.0 237.9,875.2 242.1,875.3 246.3,875.5 250.5,875.6 254.9,875.8 259.4,876.0 263.6,876.1 267.8,876.3 272.3,876.4 276.8,876.6 281.2,876.7 285.7,876.9 289.9,877.1 294.1,877.2 298.6,877.4 303.1,877.5 307.3,877.7 311.5,877.9 315.9,878.0 320.4,878.2 324.6,878.3 328.8,878.5 333.1,878.6 337.4,878.8"/>
<polyline points="192.3,797.1 192.7,800.5 193.1,804.0 193.5,807.4 193.8,810.9 194.1,814.3 194.4,817.7 194.7,821.2 194.8,824.6 195.0,828.1 195.1,831.5 195.1,835.0 195.1,838.4 195.0,841.8 194.8,845.3 194.7,848.7 194.4,852.2 194.1,855.6 193.8,859.0 193.5,862.5 193.1,865.9 192.7,869.4 192.3,872.8"/>
<polyline points="197.3,796.8 197.7,800.3 198.0,803.7 198.4,807.2 198.7,810.7 199.0,814.1 199.3,817.6 199.5,821.1 199.7,824.5 199.8,828.0 199.9,831.5 199.9,835.0 199.9,838.4 199.8,841.9 199.7,845.4 199.5,848.8 199.3,852.3 199.0,855.8 198.7,859.2 198.4,862.7 198.0,866.2 197.7,869.6 197.3,873.1"/>
<polyline points="202.9,796.5 203.1,800.0 203.4,803.5 203.6,807.0 203.8,810.5 204.0,814.0 204.2,817.5 204.3,821.0 204.4,824.5 204.5,828.0 204.6,831.5 204.6,835.0 204.6,838.5 204.5,842.0 204.4,845.4 204.3,848.9 204.2,852.4 204.0,855.9 203.8,859.4 203.6,862.9 203.4,866.4 203.1,869.9 202.9,873.4"/>
<polyline points="208.5,796.2 208.6,799.7 208.7,803.2 208.7,806.7 208.8,810.3 208.9,813.8 209.0,817.3 209.0,820.9 209.0,824.4 209.1,827.9 209.1,831.4 209.1,835.0 209.1,838.5 209.1,842.0 209.0,845.5 209.0,849.1 209.0,852.6 208.9,856.1 208.8,859.6 208.7,863.2 208.7,866.7 208.6,870.2 208.5,873.7"/>
<polyline points="213.0,795.9 213.0,799.4 213.0,803.0 213.0,806.5 213.0,810.1 213.0,813.6 213.0,817.2 213.0,820.7 213.0,824.3 213.0,827.9 213.0,831.4 213.0,835.0 213.0,838.5 213.0,842.1 213.0,845.6 213.0,849.2 213.0,852.7 213.0,856.3 213.0,859.8 213.0,863.4 213.0,867.0 213.0,870.5 213.0,874.1"/>
<polyline points="219.1,795.5 219.1,799.1 219.1,802.7 219.1,806.3 219.1,809.9 219.1,813.5 219.1,817.0 219.1,820.6 219.1,824.2 219.1,827.8 219.1,831.4 219.1,835.0 219.1,838.5 219.1,842.1 219.1,845.7 219.1,849.3 219.1,852.9 219.1,856.5 219.1,860.0 219.1,863.6 219.1,867.2 219.1,870.8 219.1,874.4"/>
<polyline points="226.4,795.2 226.4,798.8 226.4,802.5 226.4,806.1 226.4,809.7 226.4,813.3 226.4,816.9 226.4,820.5 226.4,824.1 226.4,827.7 226.4,831.4 226.4,835.0 226.4,838.6 226.4,842.2 226.4,845.8 226.4,849.4 226.4,853.0 226.4,856.6 226.4,860.2 226.4,863.9 226.4,867.5 226.4,871.1 226.4,874.7"/>
<polyline points="233.7,794.9 233.7,798.6 233.7,802.2 233.7,805.8 233.7,809.5 233.7,813.1 233.7,816.8 233.7,820.4 233.7,824.0 233.7,827.7 233.7,831.3 233.7,835.0 233.7,838.6 233.7,842.2 233.7,845.9 233.7,849.5 233.7,853.2 233.7,856.8 233.7,860.4 233.7,864.1 233.7,867.7 233.7,871.4 233.7,875.0"/>
<polyline points="242.1,794.6 242.1,798.3 242.1,802.0 242.1,805.6 242.1,809.3 242.1,813.0 242.1,816.6 242.1,820.3 242.1,824.0 242.1,827.6 242.1,831.3 242.1,835.0 242.1,838.6 242.1,842.3 242.1,846.0 242.1,849.6 242.1,853.3 242.1,857.0 242.1,860.7 242.1,864.3 242.1,868.0 242.1,871.7 242.1,875.3"/>
<polyline points="250.5,794.3 250.5,798.0 250.5,801.7 250.5,805.4 250.5,809.1 250.5,812.8 250.5,816.5 250.5,820.2 250.5,823.9 250.5,827.6 250.5,831.3 250.5,835.0 250.5,838.7 250.5,842.4 250.5,846.1 250.5,849.8 250.5,853.5 250.5,857.2 250.5,860.9 250.5,864.6 250.5,868.2 250.5,871.9 250.5,875.6"/>
<polyline points="259.4,794.0 259.4,797.7 259.4,801.4 259.4,805.2 259.4,808.9 259.4,812.6 259.4,816.3 259.4,820.1 259.4,823.8 259.4,827.5 259.4,831.3 259.4,835.0 259.4,838.7 259.4,842.4 259.4,846.2 259.4,849.9 259.4,853.6 259.4,857.3 259.4,861.1 259.4,864.8 259.4,868.5 259.4,872.2 259.4,876.0"/>
<polyline points="267.8,793.7 267.8,797.4 267.8,801.2 267.8,804.9 267.8,808.7 267.8,812.5 267.8,816.2 267.8,820.0 267.8,823.7 267.8,827.5 267.8,831.2 267.8,835.0 267.8,838.7 267.8,842.5 267.8,846.2 267.8,850.0 267.8,853.7 267.8,857.5 267.8,861.3 267.8,865.0 267.8,868.8 267.8,872.5 267.8,876.3"/>
<polyline points="276.8,793.4 276.8,797.2 276.8,800.9 276.8,804.7 276.8,808.5 276.8,812.3 276.8,816.1 276.8,819.9 276.8,823.6 276.8,827.4 276.8,831.2 276.8,835.0 276.8,838.8 276.8,842.5 276.8,846.3 276.8,850.1 276.8,853.9 276.8,857.7 276.8,861.5 276.8,865.2 276.8,869.0 276.8,872.8 276.8,876.6"/>
<polyline points="285.7,793.1 285.7,796.9 285.7,800.7 285.7,804.5 285.7,808.3 285.7,812.1 285.7,815.9 285.7,819.7 285.7,823.6 285.7,827.4 285.7,831.2 285.7,835.0 285.7,838.8 285.7,842.6 285.7,846.4 285.7,850.2 285.7,854.0 285.7,857.9 285.7,861.7 285.7,865.5 285.7,869.3 285.7,873.1 285.7,876.9"/>
<polyline points="294.1,792.8 294.1,796.6 294.1,800.4 294.1,804.3 294.1,808.1 294.1,811.9 294.1,815.8 294.1,819.6 294.1,823.5 294.1,827.3 294.1,831.1 294.1,835.0 294.1,838.8 294.1,842.7 294.1,846.5 294.1,850.3 294.1,854.2 294.1,858.0 294.1,861.9 294.1,865.7 294.1,869.5 294.1,873.4 294.1,877.2"/>
<polyline points="303.1,792.4 303.1,796.3 303.1,800.2 303.1,804.0 303.1,807.9 303.1,811.8 303.1,815.6 303.1,819.5 303.1,823.4 303.1,827.3 303.1,831.1 303.1,835.0 303.1,838.9 303.1,842.7 303.1,846.6 303.1,850.5 303.1,854.3 303.1,858.2 303.1,862.1 303.1,865.9 303.1,869.8 303.1,873.7 303.1,877.5"/>
<polyline points="311.5,792.1 311.5,796.0 311.5,799.9 311.5,803.8 311.5,807.7 311.5,811.6 311.5,815.5 311.5,819.4 311.5,823.3 311.5,827.2 311.5,831.1 311.5,835.0 311.5,838.9 311.5,842.8 311.5,846.7 311.5,850.6 311.5,854.5 311.5,858.4 311.5,862.3 311.5,866.2 311.5,870.1 311.5,874.0 311.5,877.9"/>
<polyline points="320.4,791.8 320.4,795.7 320.4,799.7 320.4,803.6 320.4,807.5 320.4,811.4 320.4,815.4 320.4,819.3 320.4,823.2 320.4,827.1 320.4,831.1 320.4,835.0 320.4,838.9 320.4,842.8 320.4,846.8 320.4,850.7 320.4,854.6 320.4,858.5 320.4,862.5 320.4,866.4 320.4,870.3 320.4,874.2 320.4,878.2"/>
<polyline points="328.8,791.5 328.8,795.5 328.8,799.4 328.8,803.4 328.8,807.3 328.8,811.3 328.8,815.2 328.8,819.2 328.8,823.1 328.8,827.1 328.8,831.0 328.8,835.0 328.8,839.0 328.8,842.9 328.8,846.9 328.8,850.8 328.8,854.8 328.8,858.7 328.8,862.7 328.8,866.6 328.8,870.6 328.8,874.5 328.8,878.5"/>
<polyline points="337.4,791.2 337.4,795.2 337.4,799.2 337.4,803.1 337.4,807.1 337.4,811.1 337.4,815.1 337.4,819.1 337.4,823.1 337.4,827.0 337.4,831.0 337.4,835.0 337.4,839.0 337.4,843.0 337.4,846.9 337.4,850.9 337.4,854.9 337.4,858.9 337.4,862.9 337.4,866.9 337.4,870.8 337.4,874.8 337.4,878.8"/>
</g>
<path d="M208.4 834.2 C208.3 832.1 208.4 830.0 208.8 827.9 C209.2 825.8 210.0 823.1 210.8 821.5 C211.6 819.9 212.4 819.3 213.5 818.3 C214.6 817.3 215.9 816.4 217.5 815.6 C219.1 814.8 221.0 814.0 223.1 813.7 C225.2 813.4 227.9 813.5 230.2 813.6 C232.4 813.7 234.9 814.1 236.6 814.5 C238.3 814.9 239.5 815.3 240.6 816.0 C241.7 816.7 242.3 817.8 243.0 818.7 C243.7 819.6 243.7 820.8 244.5 821.5 C245.3 822.2 246.2 822.5 247.7 822.7 C249.2 822.9 251.3 822.5 253.3 822.7 C255.3 822.9 258.0 823.7 259.6 823.9 C261.2 824.1 262.1 824.5 263.2 823.9 C264.3 823.3 265.5 821.3 266.4 820.3 C267.3 819.3 267.8 818.5 268.7 818.0 C269.6 817.5 270.7 817.4 271.9 817.6 C273.1 817.8 274.6 818.8 275.9 819.1 C277.2 819.4 278.4 819.2 279.9 819.5 C281.3 819.8 282.9 820.4 284.6 821.1 C286.3 821.8 288.5 823.1 290.2 823.9 C291.9 824.7 293.1 825.4 295.0 825.9 C296.9 826.4 299.2 826.8 301.3 827.1 C303.4 827.4 305.8 827.5 307.7 827.9 C309.6 828.3 311.2 828.8 312.5 829.5 C313.8 830.2 315.0 831.3 315.6 832.3 C316.2 833.3 316.5 834.4 316.4 835.4 C316.3 836.4 315.7 837.5 314.8 838.2 C313.9 838.9 312.6 839.4 310.9 839.8 C309.2 840.2 306.6 840.3 304.5 840.6 C302.4 840.9 300.1 841.3 298.2 841.8 C296.3 842.3 295.0 842.7 293.4 843.4 C291.8 844.1 290.5 845.4 288.6 846.2 C286.8 847.0 284.2 847.7 282.3 848.2 C280.4 848.7 279.2 848.6 277.5 849.0 C275.8 849.4 273.5 850.5 271.9 850.5 C270.3 850.5 268.9 849.9 267.9 849.3 C266.8 848.6 266.4 847.4 265.6 846.6 C264.8 845.8 264.4 844.7 263.2 844.4 C261.9 844.1 260.0 844.4 258.1 844.6 C256.2 844.8 253.8 845.1 251.7 845.4 C249.6 845.7 246.8 845.7 245.3 846.2 C243.9 846.7 243.7 847.6 243.0 848.5 C242.3 849.4 242.2 850.9 241.4 851.7 C240.6 852.5 239.8 852.9 238.2 853.3 C236.6 853.7 234.2 854.0 231.8 854.1 C229.4 854.2 226.2 854.4 223.9 854.1 C221.7 853.8 220.0 853.3 218.3 852.5 C216.6 851.7 214.8 850.2 213.5 849.3 C212.2 848.4 211.5 848.5 210.8 847.0 C210.1 845.5 209.6 842.7 209.2 840.6 C208.8 838.5 208.5 836.3 208.4 834.2Z" fill="none" stroke="#000" stroke-width="2.3" stroke-linejoin="round"/>
<g fill="none" stroke="#7a7a7a" stroke-width="0.7">
<polyline points="616.8,789.2 622.0,789.4 627.2,789.5 632.2,789.7 637.1,789.8 642.4,790.0 647.6,790.1 652.5,790.3 657.4,790.4 662.0,790.6 666.6,790.8 671.0,790.9 675.3,791.1 679.6,791.2 683.9,791.4 687.2,791.5 690.6,791.7 693.8,791.8 697.0,792.0 700.0,792.2 703.1,792.3 706.3,792.5 709.5,792.6 712.7,792.8 715.9,792.9 718.8,793.1 721.7,793.2 724.9,793.4 728.1,793.5 731.3,793.7 734.5,793.9 737.7,794.0 740.9,794.2 744.1,794.3 747.3,794.5 750.5,794.6 753.7,794.8 757.1,794.9 760.5,795.1"/>
<polyline points="616.1,797.6 621.2,797.7 626.4,797.8 631.4,798.0 636.5,798.1 641.8,798.2 647.1,798.3 652.1,798.5 657.1,798.6 661.8,798.7 666.5,798.8 670.9,799.0 675.3,799.1 679.6,799.2 683.9,799.3 687.2,799.5 690.6,799.6 693.8,799.7 697.0,799.8 700.0,800.0 703.1,800.1 706.3,800.2 709.5,800.3 712.7,800.5 715.9,800.6 718.8,800.7 721.7,800.8 724.9,801.0 728.1,801.1 731.3,801.2 734.5,801.3 737.7,801.5 740.9,801.6 744.1,801.7 747.3,801.8 750.5,802.0 753.7,802.1 757.1,802.2 760.5,802.3"/>
<polyline points="615.4,806.0 620.5,806.1 625.7,806.2 630.8,806.3 635.9,806.4 641.3,806.5 646.7,806.6 651.8,806.7 656.9,806.7 661.6,806.8 666.3,806.9 670.8,807.0 675.3,807.1 679.6,807.2 683.9,807.3 687.2,807.4 690.6,807.5 693.8,807.6 697.0,807.7 700.0,807.8 703.1,807.9 706.3,808.0 709.5,808.1 712.7,808.2 715.9,808.2 718.8,808.3 721.7,808.4 724.9,808.5 728.1,808.6 731.3,808.7 734.5,808.8 737.7,808.9 740.9,809.0 744.1,809.1 747.3,809.2 750.5,809.3 753.7,809.4 757.1,809.5 760.5,809.6"/>
<polyline points="614.8,814.4 620.0,814.5 625.1,814.5 630.3,814.6 635.4,814.7 640.9,814.7 646.3,814.8 651.5,814.8 656.6,814.9 661.4,815.0 666.2,815.0 670.8,815.1 675.3,815.2 679.6,815.2 683.9,815.3 687.2,815.3 690.6,815.4 693.8,815.5 697.0,815.5 700.0,815.6 703.1,815.7 706.3,815.7 709.5,815.8 712.7,815.8 715.9,815.9 718.8,816.0 721.7,816.0 724.9,816.1 728.1,816.2 731.3,816.2 734.5,816.3 737.7,816.3 740.9,816.4 744.1,816.5 747.3,816.5 750.5,816.6 753.7,816.7 757.1,816.7 760.5,816.8"/>
<polyline points="614.4,822.8 619.5,822.8 624.7,822.9 629.9,822.9 635.1,822.9 640.6,823.0 646.1,823.0 651.3,823.0 656.5,823.1 661.3,823.1 666.1,823.1 670.7,823.2 675.3,823.2 679.6,823.2 683.9,823.2 687.2,823.3 690.6,823.3 693.8,823.3 697.0,823.4 700.0,823.4 703.1,823.4 706.3,823.5 709.5,823.5 712.7,823.5 715.9,823.6 718.8,823.6 721.7,823.6 724.9,823.7 728.1,823.7 731.3,823.7 734.5,823.8 737.7,823.8 740.9,823.8 744.1,823.8 747.3,823.9 750.5,823.9 753.7,823.9 757.1,824.0 760.5,824.0"/>
<polyline points="614.2,831.2 619.3,831.2 624.4,831.2 629.7,831.2 634.9,831.2 640.4,831.2 645.9,831.2 651.2,831.2 656.4,831.2 661.3,831.2 666.1,831.2 670.7,831.2 675.3,831.2 679.6,831.2 683.9,831.2 687.2,831.2 690.6,831.2 693.8,831.2 697.0,831.2 700.0,831.2 703.1,831.2 706.3,831.2 709.5,831.2 712.7,831.2 715.9,831.2 718.8,831.2 721.7,831.2 724.9,831.2 728.1,831.2 731.3,831.2 734.5,831.2 737.7,831.2 740.9,831.2 744.1,831.2 747.3,831.2 750.5,831.2 753.7,831.2 757.1,831.2 760.5,831.2"/>
<polyline points="614.2,839.6 619.3,839.6 624.4,839.5 629.7,839.5 634.9,839.5 640.4,839.5 645.9,839.4 651.2,839.4 656.4,839.4 661.3,839.3 666.1,839.3 670.7,839.3 675.3,839.2 679.6,839.2 683.9,839.2 687.2,839.2 690.6,839.1 693.8,839.1 697.0,839.1 700.0,839.0 703.1,839.0 706.3,839.0 709.5,838.9 712.7,838.9 715.9,838.9 718.8,838.9 721.7,838.8 724.9,838.8 728.1,838.8 731.3,838.7 734.5,838.7 737.7,838.7 740.9,838.6 744.1,838.6 747.3,838.6 750.5,838.6 753.7,838.5 757.1,838.5 760.5,838.5"/>
<polyline points="614.4,848.0 619.5,847.9 624.7,847.9 629.9,847.8 635.1,847.8 640.6,847.7 646.1,847.6 651.3,847.6 656.5,847.5 661.3,847.5 666.1,847.4 670.7,847.3 675.3,847.3 679.6,847.2 683.9,847.1 687.2,847.1 690.6,847.0 693.8,847.0 697.0,846.9 700.0,846.8 703.1,846.8 706.3,846.7 709.5,846.7 712.7,846.6 715.9,846.5 718.8,846.5 721.7,846.4 724.9,846.4 728.1,846.3 731.3,846.2 734.5,846.2 737.7,846.1 740.9,846.1 744.1,846.0 747.3,845.9 750.5,845.9 753.7,845.8 757.1,845.8 760.5,845.7"/>
<polyline points="614.8,856.4 620.0,856.3 625.1,856.2 630.3,856.1 635.4,856.0 640.9,855.9 646.3,855.9 651.5,855.8 656.6,855.7 661.4,855.6 666.2,855.5 670.8,855.4 675.3,855.3 679.6,855.2 683.9,855.1 687.2,855.0 690.6,854.9 693.8,854.8 697.0,854.8 700.0,854.7 703.1,854.6 706.3,854.5 709.5,854.4 712.7,854.3 715.9,854.2 718.8,854.1 721.7,854.0 724.9,853.9 728.1,853.8 731.3,853.7 734.5,853.7 737.7,853.6 740.9,853.5 744.1,853.4 747.3,853.3 750.5,853.2 753.7,853.1 757.1,853.0 760.5,852.9"/>
<polyline points="615.4,864.8 620.5,864.7 625.7,864.6 630.8,864.4 635.9,864.3 641.3,864.2 646.7,864.1 651.8,863.9 656.9,863.8 661.6,863.7 666.3,863.6 670.8,863.5 675.3,863.3 679.6,863.2 683.9,863.1 687.2,863.0 690.6,862.8 693.8,862.7 697.0,862.6 700.0,862.5 703.1,862.4 706.3,862.2 709.5,862.1 712.7,862.0 715.9,861.9 718.8,861.7 721.7,861.6 724.9,861.5 728.1,861.4 731.3,861.2 734.5,861.1 737.7,861.0 740.9,860.9 744.1,860.8 747.3,860.6 750.5,860.5 753.7,860.4 757.1,860.3 760.5,860.1"/>
<polyline points="616.1,873.2 621.2,873.0 626.4,872.9 631.4,872.7 636.5,872.6 641.8,872.4 647.1,872.3 652.1,872.1 657.1,872.0 661.8,871.8 666.5,871.7 670.9,871.5 675.3,871.4 679.6,871.2 683.9,871.1 687.2,870.9 690.6,870.7 693.8,870.6 697.0,870.4 700.0,870.3 703.1,870.1 706.3,870.0 709.5,869.8 712.7,869.7 715.9,869.5 718.8,869.4 721.7,869.2 724.9,869.1 728.1,868.9 731.3,868.8 734.5,868.6 737.7,868.4 740.9,868.3 744.1,868.1 747.3,868.0 750.5,867.8 753.7,867.7 757.1,867.5 760.5,867.4"/>
<polyline points="616.8,881.6 622.0,881.4 627.2,881.2 632.2,881.0 637.1,880.9 642.4,880.7 647.6,880.5 652.5,880.3 657.4,880.1 662.0,879.9 666.6,879.8 671.0,879.6 675.3,879.4 679.6,879.2 683.9,879.0 687.2,878.8 690.6,878.7 693.8,878.5 697.0,878.3 700.0,878.1 703.1,877.9 706.3,877.7 709.5,877.5 712.7,877.4 715.9,877.2 718.8,877.0 721.7,876.8 724.9,876.6 728.1,876.4 731.3,876.3 734.5,876.1 737.7,875.9 740.9,875.7 744.1,875.5 747.3,875.3 750.5,875.2 753.7,875.0 757.1,874.8 760.5,874.6"/>
<polyline points="616.8,789.2 616.4,793.4 616.1,797.6 615.7,801.8 615.4,806.0 615.1,810.2 614.8,814.4 614.6,818.6 614.4,822.8 614.3,827.0 614.2,831.2 614.2,835.4 614.2,839.6 614.3,843.8 614.4,848.0 614.6,852.2 614.8,856.4 615.1,860.6 615.4,864.8 615.7,869.0 616.1,873.2 616.4,877.4 616.8,881.6"/>
<polyline points="627.2,789.5 626.8,793.7 626.4,797.8 626.0,802.0 625.7,806.2 625.4,810.4 625.1,814.5 624.8,818.7 624.7,822.9 624.5,827.0 624.4,831.2 624.4,835.4 624.4,839.5 624.5,843.7 624.7,847.9 624.8,852.0 625.1,856.2 625.4,860.4 625.7,864.6 626.0,868.7 626.4,872.9 626.8,877.1 627.2,881.2"/>
<polyline points="637.1,789.8 636.8,794.0 636.5,798.1 636.2,802.2 635.9,806.4 635.7,810.5 635.4,814.7 635.2,818.8 635.1,822.9 635.0,827.1 634.9,831.2 634.9,835.3 634.9,839.5 635.0,843.6 635.1,847.8 635.2,851.9 635.4,856.0 635.7,860.2 635.9,864.3 636.2,868.4 636.5,872.6 636.8,876.7 637.1,880.9"/>
<polyline points="647.6,790.1 647.4,794.2 647.1,798.3 646.9,802.5 646.7,806.6 646.5,810.7 646.3,814.8 646.2,818.9 646.1,823.0 646.0,827.1 645.9,831.2 645.9,835.3 645.9,839.4 646.0,843.5 646.1,847.6 646.2,851.7 646.3,855.9 646.5,860.0 646.7,864.1 646.9,868.2 647.1,872.3 647.4,876.4 647.6,880.5"/>
<polyline points="657.4,790.4 657.3,794.5 657.1,798.6 657.0,802.7 656.9,806.7 656.7,810.8 656.6,814.9 656.6,819.0 656.5,823.1 656.4,827.1 656.4,831.2 656.4,835.3 656.4,839.4 656.4,843.4 656.5,847.5 656.6,851.6 656.6,855.7 656.7,859.7 656.9,863.8 657.0,867.9 657.1,872.0 657.3,876.0 657.4,880.1"/>
<polyline points="666.6,790.8 666.5,794.8 666.5,798.8 666.4,802.9 666.3,806.9 666.3,811.0 666.2,815.0 666.2,819.1 666.1,823.1 666.1,827.2 666.1,831.2 666.1,835.3 666.1,839.3 666.1,843.3 666.1,847.4 666.2,851.4 666.2,855.5 666.3,859.5 666.3,863.6 666.4,867.6 666.5,871.7 666.5,875.7 666.6,879.8"/>
<polyline points="675.3,791.1 675.3,795.1 675.3,799.1 675.3,803.1 675.3,807.1 675.3,811.1 675.3,815.2 675.3,819.2 675.3,823.2 675.3,827.2 675.3,831.2 675.3,835.2 675.3,839.2 675.3,843.3 675.3,847.3 675.3,851.3 675.3,855.3 675.3,859.3 675.3,863.3 675.3,867.3 675.3,871.4 675.3,875.4 675.3,879.4"/>
<polyline points="683.9,791.4 683.9,795.4 683.9,799.3 683.9,803.3 683.9,807.3 683.9,811.3 683.9,815.3 683.9,819.3 683.9,823.2 683.9,827.2 683.9,831.2 683.9,835.2 683.9,839.2 683.9,843.2 683.9,847.1 683.9,851.1 683.9,855.1 683.9,859.1 683.9,863.1 683.9,867.1 683.9,871.1 683.9,875.0 683.9,879.0"/>
<polyline points="690.6,791.7 690.6,795.6 690.6,799.6 690.6,803.5 690.6,807.5 690.6,811.4 690.6,815.4 690.6,819.4 690.6,823.3 690.6,827.3 690.6,831.2 690.6,835.2 690.6,839.1 690.6,843.1 690.6,847.0 690.6,851.0 690.6,854.9 690.6,858.9 690.6,862.8 690.6,866.8 690.6,870.7 690.6,874.7 690.6,878.7"/>
<polyline points="697.0,792.0 697.0,795.9 697.0,799.8 697.0,803.8 697.0,807.7 697.0,811.6 697.0,815.5 697.0,819.5 697.0,823.4 697.0,827.3 697.0,831.2 697.0,835.1 697.0,839.1 697.0,843.0 697.0,846.9 697.0,850.8 697.0,854.8 697.0,858.7 697.0,862.6 697.0,866.5 697.0,870.4 697.0,874.4 697.0,878.3"/>
<polyline points="703.1,792.3 703.1,796.2 703.1,800.1 703.1,804.0 703.1,807.9 703.1,811.8 703.1,815.7 703.1,819.5 703.1,823.4 703.1,827.3 703.1,831.2 703.1,835.1 703.1,839.0 703.1,842.9 703.1,846.8 703.1,850.7 703.1,854.6 703.1,858.5 703.1,862.4 703.1,866.2 703.1,870.1 703.1,874.0 703.1,877.9"/>
<polyline points="709.5,792.6 709.5,796.5 709.5,800.3 709.5,804.2 709.5,808.1 709.5,811.9 709.5,815.8 709.5,819.6 709.5,823.5 709.5,827.4 709.5,831.2 709.5,835.1 709.5,838.9 709.5,842.8 709.5,846.7 709.5,850.5 709.5,854.4 709.5,858.2 709.5,862.1 709.5,866.0 709.5,869.8 709.5,873.7 709.5,877.5"/>
<polyline points="715.9,792.9 715.9,796.8 715.9,800.6 715.9,804.4 715.9,808.2 715.9,812.1 715.9,815.9 715.9,819.7 715.9,823.6 715.9,827.4 715.9,831.2 715.9,835.1 715.9,838.9 715.9,842.7 715.9,846.5 715.9,850.4 715.9,854.2 715.9,858.0 715.9,861.9 715.9,865.7 715.9,869.5 715.9,873.3 715.9,877.2"/>
<polyline points="721.7,793.2 721.7,797.0 721.7,800.8 721.7,804.6 721.7,808.4 721.7,812.2 721.7,816.0 721.7,819.8 721.7,823.6 721.7,827.4 721.7,831.2 721.7,835.0 721.7,838.8 721.7,842.6 721.7,846.4 721.7,850.2 721.7,854.0 721.7,857.8 721.7,861.6 721.7,865.4 721.7,869.2 721.7,873.0 721.7,876.8"/>
<polyline points="728.1,793.5 728.1,797.3 728.1,801.1 728.1,804.9 728.1,808.6 728.1,812.4 728.1,816.2 728.1,819.9 728.1,823.7 728.1,827.5 728.1,831.2 728.1,835.0 728.1,838.8 728.1,842.5 728.1,846.3 728.1,850.1 728.1,853.8 728.1,857.6 728.1,861.4 728.1,865.1 728.1,868.9 728.1,872.7 728.1,876.4"/>
<polyline points="734.5,793.9 734.5,797.6 734.5,801.3 734.5,805.1 734.5,808.8 734.5,812.5 734.5,816.3 734.5,820.0 734.5,823.8 734.5,827.5 734.5,831.2 734.5,835.0 734.5,838.7 734.5,842.4 734.5,846.2 734.5,849.9 734.5,853.7 734.5,857.4 734.5,861.1 734.5,864.9 734.5,868.6 734.5,872.3 734.5,876.1"/>
<polyline points="740.9,794.2 740.9,797.9 740.9,801.6 740.9,805.3 740.9,809.0 740.9,812.7 740.9,816.4 740.9,820.1 740.9,823.8 740.9,827.5 740.9,831.2 740.9,834.9 740.9,838.6 740.9,842.3 740.9,846.1 740.9,849.8 740.9,853.5 740.9,857.2 740.9,860.9 740.9,864.6 740.9,868.3 740.9,872.0 740.9,875.7"/>
<polyline points="747.3,794.5 747.3,798.2 747.3,801.8 747.3,805.5 747.3,809.2 747.3,812.9 747.3,816.5 747.3,820.2 747.3,823.9 747.3,827.6 747.3,831.2 747.3,834.9 747.3,838.6 747.3,842.3 747.3,845.9 747.3,849.6 747.3,853.3 747.3,857.0 747.3,860.6 747.3,864.3 747.3,868.0 747.3,871.7 747.3,875.3"/>
<polyline points="753.7,794.8 753.7,798.4 753.7,802.1 753.7,805.7 753.7,809.4 753.7,813.0 753.7,816.7 753.7,820.3 753.7,823.9 753.7,827.6 753.7,831.2 753.7,834.9 753.7,838.5 753.7,842.2 753.7,845.8 753.7,849.5 753.7,853.1 753.7,856.7 753.7,860.4 753.7,864.0 753.7,867.7 753.7,871.3 753.7,875.0"/>
<polyline points="760.5,795.1 760.5,798.7 760.5,802.3 760.5,805.9 760.5,809.6 760.5,813.2 760.5,816.8 760.5,820.4 760.5,824.0 760.5,827.6 760.5,831.2 760.5,834.9 760.5,838.5 760.5,842.1 760.5,845.7 760.5,849.3 760.5,852.9 760.5,856.5 760.5,860.1 760.5,863.8 760.5,867.4 760.5,871.0 760.5,874.6"/>
</g>
<path d="M643.2 832.8 C643.2 830.1 643.3 826.8 643.4 824.9 C643.5 823.0 643.5 822.6 644.0 821.7 C644.5 820.8 645.7 820.3 646.7 819.7 C647.7 819.1 649.0 818.8 649.9 818.1 C650.8 817.4 651.1 816.4 652.3 815.7 C653.5 815.0 655.4 814.6 657.1 814.1 C658.8 813.6 660.8 813.2 662.6 812.6 C664.5 812.0 666.5 811.1 668.2 810.6 C669.9 810.1 671.1 809.8 673.0 809.9 C674.9 810.0 677.2 810.5 679.3 811.0 C681.4 811.5 684.0 812.1 685.7 812.6 C687.4 813.1 688.6 813.4 689.7 814.1 C690.8 814.8 691.4 816.0 692.1 816.9 C692.8 817.8 693.2 819.0 694.0 819.7 C694.8 820.4 695.9 820.9 696.8 821.3 C697.7 821.6 698.0 821.6 699.2 821.8 C700.5 822.0 703.1 823.1 704.3 822.7 C705.5 822.3 705.4 820.4 706.3 819.5 C707.2 818.6 708.3 817.6 709.5 817.6 C710.7 817.6 711.9 818.6 713.3 819.2 C714.7 819.9 716.6 820.7 717.8 821.5 C719.0 822.3 719.3 823.1 720.4 824.0 C721.5 824.9 722.7 826.1 724.2 826.9 C725.7 827.6 727.4 828.0 729.3 828.5 C731.2 829.0 734.0 829.3 735.7 829.8 C737.4 830.3 738.9 831.0 739.6 831.7 C740.3 832.5 739.9 833.5 739.9 834.3 C739.9 835.0 740.0 835.6 739.6 836.2 C739.2 836.8 739.0 837.6 737.7 838.1 C736.4 838.6 733.6 838.8 731.9 839.1 C730.2 839.4 728.8 839.6 727.4 840.1 C726.0 840.6 724.8 841.3 723.6 842.0 C722.4 842.7 721.6 843.6 720.4 844.5 C719.2 845.4 717.8 846.4 716.5 847.1 C715.2 847.9 714.0 848.5 712.7 849.0 C711.4 849.5 709.9 850.4 708.8 850.3 C707.7 850.2 706.9 849.2 706.3 848.4 C705.7 847.6 705.8 845.9 705.0 845.5 C704.2 845.1 703.3 845.6 701.8 845.8 C700.3 846.0 697.5 845.9 696.0 846.6 C694.5 847.3 693.8 848.8 692.8 849.9 C691.8 851.0 690.9 852.6 689.7 853.5 C688.5 854.4 687.6 854.9 685.7 855.5 C683.8 856.1 680.8 856.7 678.5 857.1 C676.2 857.5 674.3 858.0 672.2 857.9 C670.1 857.8 667.9 857.2 665.8 856.7 C663.7 856.2 661.6 855.4 659.5 854.7 C657.4 854.0 654.7 853.4 653.1 852.7 C651.5 852.0 651.1 851.2 649.9 850.3 C648.7 849.4 647.0 848.4 646.0 847.5 C645.0 846.6 644.0 845.8 643.6 844.7 C643.2 843.6 643.5 842.8 643.4 840.8 C643.3 838.8 643.2 835.4 643.2 832.8Z" fill="none" stroke="#000" stroke-width="2.3" stroke-linejoin="round"/>
<line x1="483.5" y1="382.2" x2="483.5" y2="760.3" stroke="#111" stroke-width="1" stroke-dasharray="4,3"/>
<line x1="210.8" y1="571.5" x2="755.6" y2="571.5" stroke="#111" stroke-width="1" stroke-dasharray="4,3"/>
<g id="hulls" fill="none" stroke-width="1.1">
<path d="M265.1 544.9 L282.8 480.4 L432.5 519.1 L572.4 611.4 L376.3 700.1 L316.5 692.8 L268.3 595.6 Z" stroke="#d3702e"/>
<path d="M291.2 492.7 L390.4 470.6 L593.7 488.0 L690.4 603.8 L678.2 615.4 L594.0 647.9 L568.1 654.9 L433.5 685.1 L373.7 692.6 L314.6 581.3 Z" stroke="#4d8fd6"/>
<path d="M303.2 544.1 L339.2 510.7 L444.1 483.5 L569.4 467.8 L603.3 514.6 L588.5 613.6 L450.9 660.0 L322.9 641.3 Z" stroke="#34507e"/>
<path d="M318.3 537.3 L455.4 488.6 L517.6 501.8 L547.4 570.8 L556.6 639.5 L455.4 660.4 L395.6 659.2 L322.3 591.5 Z" stroke="#1f6d6c"/>
<path d="M440.5 471.7 L546.3 464.2 L589.2 475.1 L675.3 565.6 L684.0 589.7 L604.2 668.1 L500.9 651.4 L461.3 594.7 Z" stroke="#a9a54e"/>
<path d="M487.6 604.4 L495.3 559.2 L652.4 518.0 L664.4 570.1 L532.8 612.1 L522.8 612.1 Z" stroke="#cf3b3b"/>
<path d="M552.6 610.8 L555.8 590.5 L605.5 563.2 L705.4 607.6 L647.1 639.4 Z" stroke="#dfa88e"/>
<path d="M475.3 648.9 L547.0 647.2 Z" stroke="#efc5d2"/>
<path d="M538.5 597.6 L563.5 611.7 Z" stroke="#7a3040"/>
</g>
<g id="pts">
<path d="M538.5 594.0L542.8 601.2L534.2 601.2Z" fill="#6b2232" stroke="#1b1b1b" stroke-width="0.8"/>
<path d="M563.5 608.1L567.8 615.3L559.2 615.3Z" fill="#6b2232" stroke="#1b1b1b" stroke-width="0.8"/>
<circle cx="291.2" cy="492.7" r="3.60" fill="#4b86c9" stroke="#1b1b1b" stroke-width="0.8"/>
<circle cx="352.8" cy="510.8" r="3.60" fill="#4b86c9" stroke="#1b1b1b" stroke-width="0.8"/>
<circle cx="302.0" cy="521.7" r="3.60" fill="#4b86c9" stroke="#1b1b1b" stroke-width="0.8"/>
<circle cx="390.4" cy="470.6" r="3.60" fill="#4b86c9" stroke="#1b1b1b" stroke-width="0.8"/>
<circle cx="400.0" cy="497.7" r="3.60" fill="#4b86c9" stroke="#1b1b1b" stroke-width="0.8"/>
<circle cx="396.4" cy="509.7" r="3.60" fill="#4b86c9" stroke="#1b1b1b" stroke-width="0.8"/>
<circle cx="416.0" cy="517.2" r="3.60" fill="#4b86c9" stroke="#1b1b1b" stroke-width="0.8"/>
<circle cx="443.3" cy="508.8" r="3.60" fill="#4b86c9" stroke="#1b1b1b" stroke-width="0.8"/>
<circle cx="398.5" cy="524.4" r="3.60" fill="#4b86c9" stroke="#1b1b1b" stroke-width="0.8"/>
<circle cx="466.9" cy="490.9" r="3.60" fill="#4b86c9" stroke="#1b1b1b" stroke-width="0.8"/>
<circle cx="472.4" cy="484.7" r="3.60" fill="#4b86c9" stroke="#1b1b1b" stroke-width="0.8"/>
<circle cx="465.0" cy="499.9" r="3.60" fill="#4b86c9" stroke="#1b1b1b" stroke-width="0.8"/>
<circle cx="481.4" cy="494.1" r="3.60" fill="#4b86c9" stroke="#1b1b1b" stroke-width="0.8"/>
<circle cx="488.5" cy="498.2" r="3.60" fill="#4b86c9" stroke="#1b1b1b" stroke-width="0.8"/>
<circle cx="495.1" cy="496.3" r="3.60" fill="#4b86c9" stroke="#1b1b1b" stroke-width="0.8"/>
<circle cx="503.2" cy="488.6" r="3.60" fill="#4b86c9" stroke="#1b1b1b" stroke-width="0.8"/>
<circle cx="510.9" cy="494.7" r="3.60" fill="#4b86c9" stroke="#1b1b1b" stroke-width="0.8"/>
<circle cx="456.7" cy="506.3" r="3.60" fill="#4b86c9" stroke="#1b1b1b" stroke-width="0.8"/>
<circle cx="493.6" cy="519.6" r="3.60" fill="#4b86c9" stroke="#1b1b1b" stroke-width="0.8"/>
<circle cx="593.7" cy="488.0" r="3.60" fill="#4b86c9" stroke="#1b1b1b" stroke-width="0.8"/>
<circle cx="580.4" cy="500.1" r="3.60" fill="#4b86c9" stroke="#1b1b1b" stroke-width="0.8"/>
<circle cx="348.0" cy="559.1" r="3.60" fill="#4b86c9" stroke="#1b1b1b" stroke-width="0.8"/>
<circle cx="314.6" cy="581.3" r="3.60" fill="#4b86c9" stroke="#1b1b1b" stroke-width="0.8"/>
<circle cx="394.1" cy="534.5" r="3.60" fill="#4b86c9" stroke="#1b1b1b" stroke-width="0.8"/>
<circle cx="416.5" cy="540.0" r="3.60" fill="#4b86c9" stroke="#1b1b1b" stroke-width="0.8"/>
<circle cx="357.2" cy="545.1" r="3.60" fill="#4b86c9" stroke="#1b1b1b" stroke-width="0.8"/>
<circle cx="395.6" cy="543.8" r="3.60" fill="#4b86c9" stroke="#1b1b1b" stroke-width="0.8"/>
<circle cx="388.0" cy="550.3" r="3.60" fill="#4b86c9" stroke="#1b1b1b" stroke-width="0.8"/>
<circle cx="393.7" cy="552.8" r="3.60" fill="#4b86c9" stroke="#1b1b1b" stroke-width="0.8"/>
<circle cx="383.2" cy="561.8" r="3.60" fill="#4b86c9" stroke="#1b1b1b" stroke-width="0.8"/>
<circle cx="394.4" cy="561.4" r="3.60" fill="#4b86c9" stroke="#1b1b1b" stroke-width="0.8"/>
<circle cx="398.2" cy="561.4" r="3.60" fill="#4b86c9" stroke="#1b1b1b" stroke-width="0.8"/>
<circle cx="367.4" cy="582.0" r="3.60" fill="#4b86c9" stroke="#1b1b1b" stroke-width="0.8"/>
<circle cx="373.5" cy="580.8" r="3.60" fill="#4b86c9" stroke="#1b1b1b" stroke-width="0.8"/>
<circle cx="363.0" cy="583.6" r="3.60" fill="#4b86c9" stroke="#1b1b1b" stroke-width="0.8"/>
<circle cx="390.5" cy="578.5" r="3.60" fill="#4b86c9" stroke="#1b1b1b" stroke-width="0.8"/>
<circle cx="395.6" cy="582.0" r="3.60" fill="#4b86c9" stroke="#1b1b1b" stroke-width="0.8"/>
<circle cx="407.8" cy="578.5" r="3.60" fill="#4b86c9" stroke="#1b1b1b" stroke-width="0.8"/>
<circle cx="419.4" cy="548.6" r="3.60" fill="#4b86c9" stroke="#1b1b1b" stroke-width="0.8"/>
<circle cx="426.0" cy="552.8" r="3.60" fill="#4b86c9" stroke="#1b1b1b" stroke-width="0.8"/>
<circle cx="440.7" cy="580.0" r="3.60" fill="#4b86c9" stroke="#1b1b1b" stroke-width="0.8"/>
<circle cx="421.9" cy="580.5" r="3.60" fill="#4b86c9" stroke="#1b1b1b" stroke-width="0.8"/>
<circle cx="430.6" cy="582.7" r="3.60" fill="#4b86c9" stroke="#1b1b1b" stroke-width="0.8"/>
<circle cx="442.4" cy="563.1" r="3.60" fill="#4b86c9" stroke="#1b1b1b" stroke-width="0.8"/>
<circle cx="452.3" cy="525.9" r="3.60" fill="#4b86c9" stroke="#1b1b1b" stroke-width="0.8"/>
<circle cx="448.5" cy="529.1" r="3.60" fill="#4b86c9" stroke="#1b1b1b" stroke-width="0.8"/>
<circle cx="473.5" cy="533.6" r="3.60" fill="#4b86c9" stroke="#1b1b1b" stroke-width="0.8"/>
<circle cx="478.0" cy="538.1" r="3.60" fill="#4b86c9" stroke="#1b1b1b" stroke-width="0.8"/>
<circle cx="506.2" cy="529.1" r="3.60" fill="#4b86c9" stroke="#1b1b1b" stroke-width="0.8"/>
<circle cx="503.6" cy="534.2" r="3.60" fill="#4b86c9" stroke="#1b1b1b" stroke-width="0.8"/>
<circle cx="490.8" cy="538.7" r="3.60" fill="#4b86c9" stroke="#1b1b1b" stroke-width="0.8"/>
<circle cx="465.8" cy="548.1" r="3.60" fill="#4b86c9" stroke="#1b1b1b" stroke-width="0.8"/>
<circle cx="470.9" cy="547.1" r="3.60" fill="#4b86c9" stroke="#1b1b1b" stroke-width="0.8"/>
<circle cx="454.2" cy="550.9" r="3.60" fill="#4b86c9" stroke="#1b1b1b" stroke-width="0.8"/>
<circle cx="442.0" cy="552.2" r="3.60" fill="#4b86c9" stroke="#1b1b1b" stroke-width="0.8"/>
<circle cx="519.0" cy="551.5" r="3.60" fill="#4b86c9" stroke="#1b1b1b" stroke-width="0.8"/>
<circle cx="519.6" cy="557.3" r="3.60" fill="#4b86c9" stroke="#1b1b1b" stroke-width="0.8"/>
<circle cx="484.4" cy="561.8" r="3.60" fill="#4b86c9" stroke="#1b1b1b" stroke-width="0.8"/>
<circle cx="511.9" cy="563.1" r="3.60" fill="#4b86c9" stroke="#1b1b1b" stroke-width="0.8"/>
<circle cx="515.8" cy="565.0" r="3.60" fill="#4b86c9" stroke="#1b1b1b" stroke-width="0.8"/>
<circle cx="529.9" cy="559.2" r="3.60" fill="#4b86c9" stroke="#1b1b1b" stroke-width="0.8"/>
<circle cx="506.2" cy="571.4" r="3.60" fill="#4b86c9" stroke="#1b1b1b" stroke-width="0.8"/>
<circle cx="510.6" cy="575.3" r="3.60" fill="#4b86c9" stroke="#1b1b1b" stroke-width="0.8"/>
<circle cx="458.7" cy="580.4" r="3.60" fill="#4b86c9" stroke="#1b1b1b" stroke-width="0.8"/>
<circle cx="504.2" cy="583.0" r="3.60" fill="#4b86c9" stroke="#1b1b1b" stroke-width="0.8"/>
<circle cx="506.8" cy="577.8" r="3.60" fill="#4b86c9" stroke="#1b1b1b" stroke-width="0.8"/>
<circle cx="524.7" cy="583.0" r="3.60" fill="#4b86c9" stroke="#1b1b1b" stroke-width="0.8"/>
<circle cx="590.4" cy="531.7" r="3.60" fill="#4b86c9" stroke="#1b1b1b" stroke-width="0.8"/>
<circle cx="589.7" cy="549.9" r="3.60" fill="#4b86c9" stroke="#1b1b1b" stroke-width="0.8"/>
<circle cx="559.9" cy="572.7" r="3.60" fill="#4b86c9" stroke="#1b1b1b" stroke-width="0.8"/>
<circle cx="526.3" cy="527.2" r="3.60" fill="#4b86c9" stroke="#1b1b1b" stroke-width="0.8"/>
<circle cx="530.8" cy="529.1" r="3.60" fill="#4b86c9" stroke="#1b1b1b" stroke-width="0.8"/>
<circle cx="532.7" cy="533.0" r="3.60" fill="#4b86c9" stroke="#1b1b1b" stroke-width="0.8"/>
<circle cx="535.3" cy="546.4" r="3.60" fill="#4b86c9" stroke="#1b1b1b" stroke-width="0.8"/>
<circle cx="537.8" cy="543.8" r="3.60" fill="#4b86c9" stroke="#1b1b1b" stroke-width="0.8"/>
<circle cx="325.6" cy="599.9" r="3.60" fill="#4b86c9" stroke="#1b1b1b" stroke-width="0.8"/>
<circle cx="348.7" cy="598.0" r="3.60" fill="#4b86c9" stroke="#1b1b1b" stroke-width="0.8"/>
<circle cx="347.6" cy="588.3" r="3.60" fill="#4b86c9" stroke="#1b1b1b" stroke-width="0.8"/>
<circle cx="389.9" cy="585.8" r="3.60" fill="#4b86c9" stroke="#1b1b1b" stroke-width="0.8"/>
<circle cx="410.4" cy="591.5" r="3.60" fill="#4b86c9" stroke="#1b1b1b" stroke-width="0.8"/>
<circle cx="413.0" cy="590.9" r="3.60" fill="#4b86c9" stroke="#1b1b1b" stroke-width="0.8"/>
<circle cx="410.4" cy="606.9" r="3.60" fill="#4b86c9" stroke="#1b1b1b" stroke-width="0.8"/>
<circle cx="416.2" cy="606.3" r="3.60" fill="#4b86c9" stroke="#1b1b1b" stroke-width="0.8"/>
<circle cx="359.7" cy="596.4" r="3.60" fill="#4b86c9" stroke="#1b1b1b" stroke-width="0.8"/>
<circle cx="371.3" cy="612.1" r="3.60" fill="#4b86c9" stroke="#1b1b1b" stroke-width="0.8"/>
<circle cx="392.2" cy="608.0" r="3.60" fill="#4b86c9" stroke="#1b1b1b" stroke-width="0.8"/>
<circle cx="389.9" cy="619.7" r="3.60" fill="#4b86c9" stroke="#1b1b1b" stroke-width="0.8"/>
<circle cx="398.2" cy="623.0" r="3.60" fill="#4b86c9" stroke="#1b1b1b" stroke-width="0.8"/>
<circle cx="405.9" cy="635.8" r="3.60" fill="#4b86c9" stroke="#1b1b1b" stroke-width="0.8"/>
<circle cx="434.7" cy="585.8" r="3.60" fill="#4b86c9" stroke="#1b1b1b" stroke-width="0.8"/>
<circle cx="440.5" cy="589.0" r="3.60" fill="#4b86c9" stroke="#1b1b1b" stroke-width="0.8"/>
<circle cx="429.6" cy="595.4" r="3.60" fill="#4b86c9" stroke="#1b1b1b" stroke-width="0.8"/>
<circle cx="441.2" cy="598.0" r="3.60" fill="#4b86c9" stroke="#1b1b1b" stroke-width="0.8"/>
<circle cx="432.2" cy="601.2" r="3.60" fill="#4b86c9" stroke="#1b1b1b" stroke-width="0.8"/>
<circle cx="425.8" cy="603.7" r="3.60" fill="#4b86c9" stroke="#1b1b1b" stroke-width="0.8"/>
<circle cx="429.0" cy="607.6" r="3.60" fill="#4b86c9" stroke="#1b1b1b" stroke-width="0.8"/>
<circle cx="463.2" cy="603.7" r="3.60" fill="#4b86c9" stroke="#1b1b1b" stroke-width="0.8"/>
<circle cx="451.7" cy="608.2" r="3.60" fill="#4b86c9" stroke="#1b1b1b" stroke-width="0.8"/>
<circle cx="460.6" cy="613.6" r="3.60" fill="#4b86c9" stroke="#1b1b1b" stroke-width="0.8"/>
<circle cx="477.3" cy="590.9" r="3.60" fill="#4b86c9" stroke="#1b1b1b" stroke-width="0.8"/>
<circle cx="480.5" cy="599.2" r="3.60" fill="#4b86c9" stroke="#1b1b1b" stroke-width="0.8"/>
<circle cx="491.4" cy="599.2" r="3.60" fill="#4b86c9" stroke="#1b1b1b" stroke-width="0.8"/>
<circle cx="488.8" cy="611.4" r="3.60" fill="#4b86c9" stroke="#1b1b1b" stroke-width="0.8"/>
<circle cx="502.3" cy="604.4" r="3.60" fill="#4b86c9" stroke="#1b1b1b" stroke-width="0.8"/>
<circle cx="520.9" cy="624.9" r="3.60" fill="#4b86c9" stroke="#1b1b1b" stroke-width="0.8"/>
<circle cx="464.5" cy="623.6" r="3.60" fill="#4b86c9" stroke="#1b1b1b" stroke-width="0.8"/>
<circle cx="469.6" cy="624.2" r="3.60" fill="#4b86c9" stroke="#1b1b1b" stroke-width="0.8"/>
<circle cx="478.0" cy="629.4" r="3.60" fill="#4b86c9" stroke="#1b1b1b" stroke-width="0.8"/>
<circle cx="512.5" cy="640.2" r="3.60" fill="#4b86c9" stroke="#1b1b1b" stroke-width="0.8"/>
<circle cx="466.3" cy="635.4" r="3.60" fill="#4b86c9" stroke="#1b1b1b" stroke-width="0.8"/>
<circle cx="482.4" cy="642.8" r="3.60" fill="#4b86c9" stroke="#1b1b1b" stroke-width="0.8"/>
<circle cx="541.7" cy="595.4" r="3.60" fill="#4b86c9" stroke="#1b1b1b" stroke-width="0.8"/>
<circle cx="535.3" cy="605.0" r="3.60" fill="#4b86c9" stroke="#1b1b1b" stroke-width="0.8"/>
<circle cx="561.5" cy="614.4" r="3.60" fill="#4b86c9" stroke="#1b1b1b" stroke-width="0.8"/>
<circle cx="543.6" cy="631.9" r="3.60" fill="#4b86c9" stroke="#1b1b1b" stroke-width="0.8"/>
<circle cx="605.8" cy="625.1" r="3.60" fill="#4b86c9" stroke="#1b1b1b" stroke-width="0.8"/>
<circle cx="562.7" cy="642.7" r="3.60" fill="#4b86c9" stroke="#1b1b1b" stroke-width="0.8"/>
<circle cx="594.0" cy="647.9" r="3.60" fill="#4b86c9" stroke="#1b1b1b" stroke-width="0.8"/>
<circle cx="690.4" cy="603.8" r="3.60" fill="#4b86c9" stroke="#1b1b1b" stroke-width="0.8"/>
<circle cx="626.3" cy="605.5" r="3.60" fill="#4b86c9" stroke="#1b1b1b" stroke-width="0.8"/>
<circle cx="678.2" cy="615.4" r="3.60" fill="#4b86c9" stroke="#1b1b1b" stroke-width="0.8"/>
<circle cx="373.7" cy="692.6" r="3.60" fill="#4b86c9" stroke="#1b1b1b" stroke-width="0.8"/>
<circle cx="421.7" cy="651.3" r="3.60" fill="#4b86c9" stroke="#1b1b1b" stroke-width="0.8"/>
<circle cx="392.7" cy="688.7" r="3.60" fill="#4b86c9" stroke="#1b1b1b" stroke-width="0.8"/>
<circle cx="433.5" cy="685.1" r="3.60" fill="#4b86c9" stroke="#1b1b1b" stroke-width="0.8"/>
<circle cx="481.7" cy="661.9" r="3.60" fill="#4b86c9" stroke="#1b1b1b" stroke-width="0.8"/>
<circle cx="568.1" cy="654.9" r="3.60" fill="#4b86c9" stroke="#1b1b1b" stroke-width="0.8"/>
<circle cx="339.2" cy="510.7" r="5.40" fill="#243a66" stroke="#1b1b1b" stroke-width="0.8"/>
<circle cx="343.1" cy="515.0" r="5.40" fill="#243a66" stroke="#1b1b1b" stroke-width="0.8"/>
<circle cx="444.1" cy="483.5" r="5.40" fill="#243a66" stroke="#1b1b1b" stroke-width="0.8"/>
<circle cx="415.1" cy="499.0" r="5.40" fill="#243a66" stroke="#1b1b1b" stroke-width="0.8"/>
<circle cx="415.8" cy="510.1" r="5.40" fill="#243a66" stroke="#1b1b1b" stroke-width="0.8"/>
<circle cx="420.5" cy="514.6" r="5.40" fill="#243a66" stroke="#1b1b1b" stroke-width="0.8"/>
<circle cx="443.3" cy="517.6" r="5.40" fill="#243a66" stroke="#1b1b1b" stroke-width="0.8"/>
<circle cx="430.0" cy="519.0" r="5.40" fill="#243a66" stroke="#1b1b1b" stroke-width="0.8"/>
<circle cx="384.0" cy="519.2" r="5.40" fill="#243a66" stroke="#1b1b1b" stroke-width="0.8"/>
<circle cx="463.7" cy="487.7" r="5.40" fill="#243a66" stroke="#1b1b1b" stroke-width="0.8"/>
<circle cx="536.2" cy="505.0" r="5.40" fill="#243a66" stroke="#1b1b1b" stroke-width="0.8"/>
<circle cx="458.0" cy="519.1" r="5.40" fill="#243a66" stroke="#1b1b1b" stroke-width="0.8"/>
<circle cx="475.9" cy="513.7" r="5.40" fill="#243a66" stroke="#1b1b1b" stroke-width="0.8"/>
<circle cx="494.9" cy="509.5" r="5.40" fill="#243a66" stroke="#1b1b1b" stroke-width="0.8"/>
<circle cx="496.0" cy="516.0" r="5.40" fill="#243a66" stroke="#1b1b1b" stroke-width="0.8"/>
<circle cx="506.0" cy="510.8" r="5.40" fill="#243a66" stroke="#1b1b1b" stroke-width="0.8"/>
<circle cx="515.4" cy="519.9" r="5.40" fill="#243a66" stroke="#1b1b1b" stroke-width="0.8"/>
<circle cx="534.3" cy="521.3" r="5.40" fill="#243a66" stroke="#1b1b1b" stroke-width="0.8"/>
<circle cx="569.4" cy="467.8" r="5.40" fill="#243a66" stroke="#1b1b1b" stroke-width="0.8"/>
<circle cx="583.6" cy="507.3" r="5.40" fill="#243a66" stroke="#1b1b1b" stroke-width="0.8"/>
<circle cx="603.3" cy="514.6" r="5.40" fill="#243a66" stroke="#1b1b1b" stroke-width="0.8"/>
<circle cx="546.0" cy="515.6" r="5.40" fill="#243a66" stroke="#1b1b1b" stroke-width="0.8"/>
<circle cx="543.5" cy="523.5" r="5.40" fill="#243a66" stroke="#1b1b1b" stroke-width="0.8"/>
<circle cx="562.0" cy="524.9" r="5.40" fill="#243a66" stroke="#1b1b1b" stroke-width="0.8"/>
<circle cx="303.2" cy="544.1" r="5.40" fill="#243a66" stroke="#1b1b1b" stroke-width="0.8"/>
<circle cx="333.3" cy="553.3" r="5.40" fill="#243a66" stroke="#1b1b1b" stroke-width="0.8"/>
<circle cx="413.3" cy="529.1" r="5.40" fill="#243a66" stroke="#1b1b1b" stroke-width="0.8"/>
<circle cx="399.5" cy="550.3" r="5.40" fill="#243a66" stroke="#1b1b1b" stroke-width="0.8"/>
<circle cx="375.8" cy="566.9" r="5.40" fill="#243a66" stroke="#1b1b1b" stroke-width="0.8"/>
<circle cx="439.2" cy="529.1" r="5.40" fill="#243a66" stroke="#1b1b1b" stroke-width="0.8"/>
<circle cx="429.4" cy="540.0" r="5.40" fill="#243a66" stroke="#1b1b1b" stroke-width="0.8"/>
<circle cx="432.8" cy="534.2" r="5.40" fill="#243a66" stroke="#1b1b1b" stroke-width="0.8"/>
<circle cx="419.1" cy="555.8" r="5.40" fill="#243a66" stroke="#1b1b1b" stroke-width="0.8"/>
<circle cx="429.6" cy="558.0" r="5.40" fill="#243a66" stroke="#1b1b1b" stroke-width="0.8"/>
<circle cx="438.1" cy="556.7" r="5.40" fill="#243a66" stroke="#1b1b1b" stroke-width="0.8"/>
<circle cx="415.5" cy="566.0" r="5.40" fill="#243a66" stroke="#1b1b1b" stroke-width="0.8"/>
<circle cx="423.2" cy="572.7" r="5.40" fill="#243a66" stroke="#1b1b1b" stroke-width="0.8"/>
<circle cx="434.5" cy="572.3" r="5.40" fill="#243a66" stroke="#1b1b1b" stroke-width="0.8"/>
<circle cx="442.4" cy="549.6" r="5.40" fill="#243a66" stroke="#1b1b1b" stroke-width="0.8"/>
<circle cx="475.4" cy="526.3" r="5.40" fill="#243a66" stroke="#1b1b1b" stroke-width="0.8"/>
<circle cx="456.8" cy="533.6" r="5.40" fill="#243a66" stroke="#1b1b1b" stroke-width="0.8"/>
<circle cx="450.4" cy="537.4" r="5.40" fill="#243a66" stroke="#1b1b1b" stroke-width="0.8"/>
<circle cx="469.0" cy="538.1" r="5.40" fill="#243a66" stroke="#1b1b1b" stroke-width="0.8"/>
<circle cx="497.8" cy="537.4" r="5.40" fill="#243a66" stroke="#1b1b1b" stroke-width="0.8"/>
<circle cx="503.6" cy="543.2" r="5.40" fill="#243a66" stroke="#1b1b1b" stroke-width="0.8"/>
<circle cx="449.1" cy="545.8" r="5.40" fill="#243a66" stroke="#1b1b1b" stroke-width="0.8"/>
<circle cx="458.7" cy="543.8" r="5.40" fill="#243a66" stroke="#1b1b1b" stroke-width="0.8"/>
<circle cx="474.7" cy="552.8" r="5.40" fill="#243a66" stroke="#1b1b1b" stroke-width="0.8"/>
<circle cx="478.6" cy="550.9" r="5.40" fill="#243a66" stroke="#1b1b1b" stroke-width="0.8"/>
<circle cx="446.5" cy="556.7" r="5.40" fill="#243a66" stroke="#1b1b1b" stroke-width="0.8"/>
<circle cx="490.1" cy="551.5" r="5.40" fill="#243a66" stroke="#1b1b1b" stroke-width="0.8"/>
<circle cx="506.8" cy="551.5" r="5.40" fill="#243a66" stroke="#1b1b1b" stroke-width="0.8"/>
<circle cx="461.9" cy="558.0" r="5.40" fill="#243a66" stroke="#1b1b1b" stroke-width="0.8"/>
<circle cx="469.6" cy="561.2" r="5.40" fill="#243a66" stroke="#1b1b1b" stroke-width="0.8"/>
<circle cx="461.9" cy="565.0" r="5.40" fill="#243a66" stroke="#1b1b1b" stroke-width="0.8"/>
<circle cx="442.7" cy="562.4" r="5.40" fill="#243a66" stroke="#1b1b1b" stroke-width="0.8"/>
<circle cx="497.8" cy="571.4" r="5.40" fill="#243a66" stroke="#1b1b1b" stroke-width="0.8"/>
<circle cx="496.5" cy="566.3" r="5.40" fill="#243a66" stroke="#1b1b1b" stroke-width="0.8"/>
<circle cx="497.8" cy="580.9" r="5.40" fill="#243a66" stroke="#1b1b1b" stroke-width="0.8"/>
<circle cx="472.2" cy="581.7" r="5.40" fill="#243a66" stroke="#1b1b1b" stroke-width="0.8"/>
<circle cx="562.2" cy="527.2" r="5.40" fill="#243a66" stroke="#1b1b1b" stroke-width="0.8"/>
<circle cx="569.2" cy="540.6" r="5.40" fill="#243a66" stroke="#1b1b1b" stroke-width="0.8"/>
<circle cx="562.8" cy="545.8" r="5.40" fill="#243a66" stroke="#1b1b1b" stroke-width="0.8"/>
<circle cx="576.3" cy="547.1" r="5.40" fill="#243a66" stroke="#1b1b1b" stroke-width="0.8"/>
<circle cx="547.8" cy="543.8" r="5.40" fill="#243a66" stroke="#1b1b1b" stroke-width="0.8"/>
<circle cx="539.7" cy="556.0" r="5.40" fill="#243a66" stroke="#1b1b1b" stroke-width="0.8"/>
<circle cx="563.5" cy="558.6" r="5.40" fill="#243a66" stroke="#1b1b1b" stroke-width="0.8"/>
<circle cx="593.6" cy="560.5" r="5.40" fill="#243a66" stroke="#1b1b1b" stroke-width="0.8"/>
<circle cx="555.1" cy="566.3" r="5.40" fill="#243a66" stroke="#1b1b1b" stroke-width="0.8"/>
<circle cx="585.9" cy="575.9" r="5.40" fill="#243a66" stroke="#1b1b1b" stroke-width="0.8"/>
<circle cx="526.9" cy="536.8" r="5.40" fill="#243a66" stroke="#1b1b1b" stroke-width="0.8"/>
<circle cx="322.9" cy="641.3" r="5.40" fill="#243a66" stroke="#1b1b1b" stroke-width="0.8"/>
<circle cx="411.4" cy="601.8" r="5.40" fill="#243a66" stroke="#1b1b1b" stroke-width="0.8"/>
<circle cx="375.1" cy="605.0" r="5.40" fill="#243a66" stroke="#1b1b1b" stroke-width="0.8"/>
<circle cx="381.3" cy="615.9" r="5.40" fill="#243a66" stroke="#1b1b1b" stroke-width="0.8"/>
<circle cx="415.3" cy="636.4" r="5.40" fill="#243a66" stroke="#1b1b1b" stroke-width="0.8"/>
<circle cx="425.1" cy="610.1" r="5.40" fill="#243a66" stroke="#1b1b1b" stroke-width="0.8"/>
<circle cx="436.7" cy="618.5" r="5.40" fill="#243a66" stroke="#1b1b1b" stroke-width="0.8"/>
<circle cx="430.9" cy="628.7" r="5.40" fill="#243a66" stroke="#1b1b1b" stroke-width="0.8"/>
<circle cx="455.5" cy="589.0" r="5.40" fill="#243a66" stroke="#1b1b1b" stroke-width="0.8"/>
<circle cx="465.8" cy="591.5" r="5.40" fill="#243a66" stroke="#1b1b1b" stroke-width="0.8"/>
<circle cx="455.5" cy="600.5" r="5.40" fill="#243a66" stroke="#1b1b1b" stroke-width="0.8"/>
<circle cx="474.7" cy="585.8" r="5.40" fill="#243a66" stroke="#1b1b1b" stroke-width="0.8"/>
<circle cx="496.5" cy="615.3" r="5.40" fill="#243a66" stroke="#1b1b1b" stroke-width="0.8"/>
<circle cx="503.0" cy="600.5" r="5.40" fill="#243a66" stroke="#1b1b1b" stroke-width="0.8"/>
<circle cx="508.7" cy="592.8" r="5.40" fill="#243a66" stroke="#1b1b1b" stroke-width="0.8"/>
<circle cx="522.2" cy="594.1" r="5.40" fill="#243a66" stroke="#1b1b1b" stroke-width="0.8"/>
<circle cx="519.6" cy="610.8" r="5.40" fill="#243a66" stroke="#1b1b1b" stroke-width="0.8"/>
<circle cx="527.7" cy="632.2" r="5.40" fill="#243a66" stroke="#1b1b1b" stroke-width="0.8"/>
<circle cx="494.6" cy="626.8" r="5.40" fill="#243a66" stroke="#1b1b1b" stroke-width="0.8"/>
<circle cx="504.2" cy="631.9" r="5.40" fill="#243a66" stroke="#1b1b1b" stroke-width="0.8"/>
<circle cx="485.0" cy="641.5" r="5.40" fill="#243a66" stroke="#1b1b1b" stroke-width="0.8"/>
<circle cx="588.5" cy="613.6" r="5.40" fill="#243a66" stroke="#1b1b1b" stroke-width="0.8"/>
<circle cx="546.8" cy="619.7" r="5.40" fill="#243a66" stroke="#1b1b1b" stroke-width="0.8"/>
<circle cx="407.2" cy="652.6" r="5.40" fill="#243a66" stroke="#1b1b1b" stroke-width="0.8"/>
<circle cx="450.9" cy="660.0" r="5.40" fill="#243a66" stroke="#1b1b1b" stroke-width="0.8"/>
<path d="M549.8 585.5L561.8 585.5L555.8 595.5Z" fill="#d6a088" stroke="#1b1b1b" stroke-width="0.8"/>
<path d="M599.5 558.2L611.5 558.2L605.5 568.2Z" fill="#d6a088" stroke="#1b1b1b" stroke-width="0.8"/>
<path d="M601.1 593.8L613.1 593.8L607.1 603.8Z" fill="#d6a088" stroke="#1b1b1b" stroke-width="0.8"/>
<path d="M595.9 605.1L607.9 605.1L601.9 615.1Z" fill="#d6a088" stroke="#1b1b1b" stroke-width="0.8"/>
<path d="M546.6 605.8L558.6 605.8L552.6 615.8Z" fill="#d6a088" stroke="#1b1b1b" stroke-width="0.8"/>
<path d="M646.4 599.0L658.4 599.0L652.4 609.0Z" fill="#d6a088" stroke="#1b1b1b" stroke-width="0.8"/>
<path d="M699.4 602.6L711.4 602.6L705.4 612.6Z" fill="#d6a088" stroke="#1b1b1b" stroke-width="0.8"/>
<path d="M658.1 620.6L670.1 620.6L664.1 630.6Z" fill="#d6a088" stroke="#1b1b1b" stroke-width="0.8"/>
<path d="M641.1 634.4L653.1 634.4L647.1 644.4Z" fill="#d6a088" stroke="#1b1b1b" stroke-width="0.8"/>
<path d="M379.5 514.5L385.4 520.4L379.5 526.3L373.6 520.4Z" fill="#165f60" stroke="#1b1b1b" stroke-width="0.8"/>
<path d="M455.4 482.7L461.3 488.6L455.4 494.5L449.5 488.6Z" fill="#165f60" stroke="#1b1b1b" stroke-width="0.8"/>
<path d="M517.6 495.9L523.5 501.8L517.6 507.7L511.7 501.8Z" fill="#165f60" stroke="#1b1b1b" stroke-width="0.8"/>
<path d="M318.3 531.4L324.2 537.3L318.3 543.2L312.4 537.3Z" fill="#165f60" stroke="#1b1b1b" stroke-width="0.8"/>
<path d="M322.3 585.6L328.2 591.5L322.3 597.4L316.4 591.5Z" fill="#165f60" stroke="#1b1b1b" stroke-width="0.8"/>
<path d="M406.3 578.6L412.2 584.5L406.3 590.4L400.4 584.5Z" fill="#165f60" stroke="#1b1b1b" stroke-width="0.8"/>
<path d="M439.2 534.4L445.1 540.3L439.2 546.2L433.3 540.3Z" fill="#165f60" stroke="#1b1b1b" stroke-width="0.8"/>
<path d="M439.0 539.9L444.9 545.8L439.0 551.7L433.1 545.8Z" fill="#165f60" stroke="#1b1b1b" stroke-width="0.8"/>
<path d="M425.5 559.7L431.4 565.6L425.5 571.5L419.6 565.6Z" fill="#165f60" stroke="#1b1b1b" stroke-width="0.8"/>
<path d="M453.0 556.5L458.9 562.4L453.0 568.3L447.1 562.4Z" fill="#165f60" stroke="#1b1b1b" stroke-width="0.8"/>
<path d="M478.6 557.8L484.5 563.7L478.6 569.6L472.7 563.7Z" fill="#165f60" stroke="#1b1b1b" stroke-width="0.8"/>
<path d="M449.1 563.6L455.0 569.5L449.1 575.4L443.2 569.5Z" fill="#165f60" stroke="#1b1b1b" stroke-width="0.8"/>
<path d="M465.1 568.1L471.0 574.0L465.1 579.9L459.2 574.0Z" fill="#165f60" stroke="#1b1b1b" stroke-width="0.8"/>
<path d="M488.2 567.4L494.1 573.3L488.2 579.2L482.3 573.3Z" fill="#165f60" stroke="#1b1b1b" stroke-width="0.8"/>
<path d="M522.2 560.4L528.1 566.3L522.2 572.2L516.3 566.3Z" fill="#165f60" stroke="#1b1b1b" stroke-width="0.8"/>
<path d="M533.2 559.4L539.1 565.3L533.2 571.2L527.3 565.3Z" fill="#165f60" stroke="#1b1b1b" stroke-width="0.8"/>
<path d="M547.4 564.9L553.3 570.8L547.4 576.7L541.5 570.8Z" fill="#165f60" stroke="#1b1b1b" stroke-width="0.8"/>
<path d="M396.9 585.0L402.8 590.9L396.9 596.8L391.0 590.9Z" fill="#165f60" stroke="#1b1b1b" stroke-width="0.8"/>
<path d="M457.4 592.1L463.3 598.0L457.4 603.9L451.5 598.0Z" fill="#165f60" stroke="#1b1b1b" stroke-width="0.8"/>
<path d="M496.5 585.6L502.4 591.5L496.5 597.4L490.6 591.5Z" fill="#165f60" stroke="#1b1b1b" stroke-width="0.8"/>
<path d="M481.2 620.3L487.1 626.2L481.2 632.1L475.3 626.2Z" fill="#165f60" stroke="#1b1b1b" stroke-width="0.8"/>
<path d="M556.6 633.6L562.5 639.5L556.6 645.4L550.7 639.5Z" fill="#165f60" stroke="#1b1b1b" stroke-width="0.8"/>
<path d="M395.6 653.3L401.5 659.2L395.6 665.1L389.7 659.2Z" fill="#165f60" stroke="#1b1b1b" stroke-width="0.8"/>
<path d="M455.4 654.5L461.3 660.4L455.4 666.3L449.5 660.4Z" fill="#165f60" stroke="#1b1b1b" stroke-width="0.8"/>
<path d="M282.8 474.8L289.5 486.0L276.1 486.0Z" fill="#cf6420" stroke="#1b1b1b" stroke-width="0.8"/>
<path d="M432.5 513.5L439.2 524.7L425.8 524.7Z" fill="#cf6420" stroke="#1b1b1b" stroke-width="0.8"/>
<path d="M265.1 539.3L271.8 550.5L258.4 550.5Z" fill="#cf6420" stroke="#1b1b1b" stroke-width="0.8"/>
<path d="M338.2 560.0L344.9 571.2L331.5 571.2Z" fill="#cf6420" stroke="#1b1b1b" stroke-width="0.8"/>
<path d="M348.7 559.9L355.4 571.1L342.0 571.1Z" fill="#cf6420" stroke="#1b1b1b" stroke-width="0.8"/>
<path d="M302.6 570.2L309.3 581.4L295.9 581.4Z" fill="#cf6420" stroke="#1b1b1b" stroke-width="0.8"/>
<path d="M292.7 578.9L299.4 590.1L286.0 590.1Z" fill="#cf6420" stroke="#1b1b1b" stroke-width="0.8"/>
<path d="M373.8 523.5L380.5 534.7L367.1 534.7Z" fill="#cf6420" stroke="#1b1b1b" stroke-width="0.8"/>
<path d="M383.2 570.9L389.9 582.1L376.5 582.1Z" fill="#cf6420" stroke="#1b1b1b" stroke-width="0.8"/>
<path d="M352.2 577.2L358.9 588.4L345.5 588.4Z" fill="#cf6420" stroke="#1b1b1b" stroke-width="0.8"/>
<path d="M479.5 574.0L486.2 585.2L472.8 585.2Z" fill="#cf6420" stroke="#1b1b1b" stroke-width="0.8"/>
<path d="M268.3 590.0L275.0 601.2L261.6 601.2Z" fill="#cf6420" stroke="#1b1b1b" stroke-width="0.8"/>
<path d="M325.0 600.6L331.7 611.8L318.3 611.8Z" fill="#cf6420" stroke="#1b1b1b" stroke-width="0.8"/>
<path d="M314.7 631.9L321.4 643.1L308.0 643.1Z" fill="#cf6420" stroke="#1b1b1b" stroke-width="0.8"/>
<path d="M402.4 589.0L409.1 600.2L395.7 600.2Z" fill="#cf6420" stroke="#1b1b1b" stroke-width="0.8"/>
<path d="M360.1 598.8L366.8 610.0L353.4 610.0Z" fill="#cf6420" stroke="#1b1b1b" stroke-width="0.8"/>
<path d="M381.3 632.6L388.0 643.8L374.6 643.8Z" fill="#cf6420" stroke="#1b1b1b" stroke-width="0.8"/>
<path d="M437.6 587.2L444.3 598.4L430.9 598.4Z" fill="#cf6420" stroke="#1b1b1b" stroke-width="0.8"/>
<path d="M425.1 609.8L431.8 621.0L418.4 621.0Z" fill="#cf6420" stroke="#1b1b1b" stroke-width="0.8"/>
<path d="M500.4 620.8L507.1 632.0L493.7 632.0Z" fill="#cf6420" stroke="#1b1b1b" stroke-width="0.8"/>
<path d="M572.4 605.8L579.1 617.0L565.7 617.0Z" fill="#cf6420" stroke="#1b1b1b" stroke-width="0.8"/>
<path d="M337.1 663.1L343.8 674.3L330.4 674.3Z" fill="#cf6420" stroke="#1b1b1b" stroke-width="0.8"/>
<path d="M328.5 675.0L335.2 686.2L321.8 686.2Z" fill="#cf6420" stroke="#1b1b1b" stroke-width="0.8"/>
<path d="M316.5 687.2L323.2 698.4L309.8 698.4Z" fill="#cf6420" stroke="#1b1b1b" stroke-width="0.8"/>
<path d="M376.3 694.5L383.0 705.7L369.6 705.7Z" fill="#cf6420" stroke="#1b1b1b" stroke-width="0.8"/>
<path d="M440.5 467.1L445.1 471.7L440.5 476.3L435.9 471.7Z" fill="#a49c3c" stroke="#1b1b1b" stroke-width="0.8"/>
<path d="M448.7 510.6L453.3 515.2L448.7 519.8L444.1 515.2Z" fill="#a49c3c" stroke="#1b1b1b" stroke-width="0.8"/>
<path d="M483.6 510.0L488.2 514.6L483.6 519.2L479.0 514.6Z" fill="#a49c3c" stroke="#1b1b1b" stroke-width="0.8"/>
<path d="M503.8 507.8L508.4 512.4L503.8 517.0L499.2 512.4Z" fill="#a49c3c" stroke="#1b1b1b" stroke-width="0.8"/>
<path d="M512.0 511.4L516.6 516.0L512.0 520.6L507.4 516.0Z" fill="#a49c3c" stroke="#1b1b1b" stroke-width="0.8"/>
<path d="M524.6 515.6L529.2 520.2L524.6 524.8L520.0 520.2Z" fill="#a49c3c" stroke="#1b1b1b" stroke-width="0.8"/>
<path d="M546.3 459.6L550.9 464.2L546.3 468.8L541.7 464.2Z" fill="#a49c3c" stroke="#1b1b1b" stroke-width="0.8"/>
<path d="M589.2 470.5L593.8 475.1L589.2 479.7L584.6 475.1Z" fill="#a49c3c" stroke="#1b1b1b" stroke-width="0.8"/>
<path d="M584.4 480.8L589.0 485.4L584.4 490.0L579.8 485.4Z" fill="#a49c3c" stroke="#1b1b1b" stroke-width="0.8"/>
<path d="M589.6 497.6L594.2 502.2L589.6 506.8L585.0 502.2Z" fill="#a49c3c" stroke="#1b1b1b" stroke-width="0.8"/>
<path d="M586.2 509.1L590.8 513.7L586.2 518.3L581.6 513.7Z" fill="#a49c3c" stroke="#1b1b1b" stroke-width="0.8"/>
<path d="M551.2 511.9L555.8 516.5L551.2 521.1L546.6 516.5Z" fill="#a49c3c" stroke="#1b1b1b" stroke-width="0.8"/>
<path d="M567.2 507.8L571.8 512.4L567.2 517.0L562.6 512.4Z" fill="#a49c3c" stroke="#1b1b1b" stroke-width="0.8"/>
<path d="M567.8 514.7L572.4 519.3L567.8 523.9L563.2 519.3Z" fill="#a49c3c" stroke="#1b1b1b" stroke-width="0.8"/>
<path d="M480.5 538.6L485.1 543.2L480.5 547.8L475.9 543.2Z" fill="#a49c3c" stroke="#1b1b1b" stroke-width="0.8"/>
<path d="M486.9 540.5L491.5 545.1L486.9 549.7L482.3 545.1Z" fill="#a49c3c" stroke="#1b1b1b" stroke-width="0.8"/>
<path d="M499.1 548.2L503.7 552.8L499.1 557.4L494.5 552.8Z" fill="#a49c3c" stroke="#1b1b1b" stroke-width="0.8"/>
<path d="M476.7 567.5L481.3 572.1L476.7 576.7L472.1 572.1Z" fill="#a49c3c" stroke="#1b1b1b" stroke-width="0.8"/>
<path d="M505.5 559.8L510.1 564.4L505.5 569.0L500.9 564.4Z" fill="#a49c3c" stroke="#1b1b1b" stroke-width="0.8"/>
<path d="M520.9 558.5L525.5 563.1L520.9 567.7L516.3 563.1Z" fill="#a49c3c" stroke="#1b1b1b" stroke-width="0.8"/>
<path d="M527.8 575.6L532.4 580.2L527.8 584.8L523.2 580.2Z" fill="#a49c3c" stroke="#1b1b1b" stroke-width="0.8"/>
<path d="M572.4 527.1L577.0 531.7L572.4 536.3L567.8 531.7Z" fill="#a49c3c" stroke="#1b1b1b" stroke-width="0.8"/>
<path d="M570.5 530.3L575.1 534.9L570.5 539.5L565.9 534.9Z" fill="#a49c3c" stroke="#1b1b1b" stroke-width="0.8"/>
<path d="M576.9 532.5L581.5 537.1L576.9 541.7L572.3 537.1Z" fill="#a49c3c" stroke="#1b1b1b" stroke-width="0.8"/>
<path d="M580.8 534.1L585.4 538.7L580.8 543.3L576.2 538.7Z" fill="#a49c3c" stroke="#1b1b1b" stroke-width="0.8"/>
<path d="M586.5 536.0L591.1 540.6L586.5 545.2L581.9 540.6Z" fill="#a49c3c" stroke="#1b1b1b" stroke-width="0.8"/>
<path d="M603.5 542.5L608.1 547.1L603.5 551.7L598.9 547.1Z" fill="#a49c3c" stroke="#1b1b1b" stroke-width="0.8"/>
<path d="M549.4 544.0L554.0 548.6L549.4 553.2L544.8 548.6Z" fill="#a49c3c" stroke="#1b1b1b" stroke-width="0.8"/>
<path d="M555.1 549.5L559.7 554.1L555.1 558.7L550.5 554.1Z" fill="#a49c3c" stroke="#1b1b1b" stroke-width="0.8"/>
<path d="M540.1 557.2L544.7 561.8L540.1 566.4L535.5 561.8Z" fill="#a49c3c" stroke="#1b1b1b" stroke-width="0.8"/>
<path d="M548.1 557.8L552.7 562.4L548.1 567.0L543.5 562.4Z" fill="#a49c3c" stroke="#1b1b1b" stroke-width="0.8"/>
<path d="M608.1 552.7L612.7 557.3L608.1 561.9L603.5 557.3Z" fill="#a49c3c" stroke="#1b1b1b" stroke-width="0.8"/>
<path d="M610.9 561.7L615.5 566.3L610.9 570.9L606.3 566.3Z" fill="#a49c3c" stroke="#1b1b1b" stroke-width="0.8"/>
<path d="M624.8 552.4L629.4 557.0L624.8 561.6L620.2 557.0Z" fill="#a49c3c" stroke="#1b1b1b" stroke-width="0.8"/>
<path d="M587.6 568.7L592.2 573.3L587.6 577.9L583.0 573.3Z" fill="#a49c3c" stroke="#1b1b1b" stroke-width="0.8"/>
<path d="M601.9 570.0L606.5 574.6L601.9 579.2L597.3 574.6Z" fill="#a49c3c" stroke="#1b1b1b" stroke-width="0.8"/>
<path d="M569.9 577.7L574.5 582.3L569.9 586.9L565.3 582.3Z" fill="#a49c3c" stroke="#1b1b1b" stroke-width="0.8"/>
<path d="M566.0 579.6L570.6 584.2L566.0 588.8L561.4 584.2Z" fill="#a49c3c" stroke="#1b1b1b" stroke-width="0.8"/>
<path d="M530.8 535.4L535.4 540.0L530.8 544.6L526.2 540.0Z" fill="#a49c3c" stroke="#1b1b1b" stroke-width="0.8"/>
<path d="M627.8 537.1L632.4 541.7L627.8 546.3L623.2 541.7Z" fill="#a49c3c" stroke="#1b1b1b" stroke-width="0.8"/>
<path d="M643.2 547.3L647.8 551.9L643.2 556.5L638.6 551.9Z" fill="#a49c3c" stroke="#1b1b1b" stroke-width="0.8"/>
<path d="M643.2 551.7L647.8 556.3L643.2 560.9L638.6 556.3Z" fill="#a49c3c" stroke="#1b1b1b" stroke-width="0.8"/>
<path d="M661.2 559.8L665.8 564.4L661.2 569.0L656.6 564.4Z" fill="#a49c3c" stroke="#1b1b1b" stroke-width="0.8"/>
<path d="M659.2 565.3L663.8 569.9L659.2 574.5L654.6 569.9Z" fill="#a49c3c" stroke="#1b1b1b" stroke-width="0.8"/>
<path d="M675.3 561.0L679.9 565.6L675.3 570.2L670.7 565.6Z" fill="#a49c3c" stroke="#1b1b1b" stroke-width="0.8"/>
<path d="M468.3 582.5L472.9 587.1L468.3 591.7L463.7 587.1Z" fill="#a49c3c" stroke="#1b1b1b" stroke-width="0.8"/>
<path d="M461.3 590.1L465.9 594.7L461.3 599.3L456.7 594.7Z" fill="#a49c3c" stroke="#1b1b1b" stroke-width="0.8"/>
<path d="M502.3 590.8L506.9 595.4L502.3 600.0L497.7 595.4Z" fill="#a49c3c" stroke="#1b1b1b" stroke-width="0.8"/>
<path d="M507.4 585.7L512.0 590.3L507.4 594.9L502.8 590.3Z" fill="#a49c3c" stroke="#1b1b1b" stroke-width="0.8"/>
<path d="M531.0 615.8L535.6 620.4L531.0 625.0L526.4 620.4Z" fill="#a49c3c" stroke="#1b1b1b" stroke-width="0.8"/>
<path d="M525.5 634.3L530.1 638.9L525.5 643.5L520.9 638.9Z" fill="#a49c3c" stroke="#1b1b1b" stroke-width="0.8"/>
<path d="M511.9 631.6L516.5 636.2L511.9 640.8L507.3 636.2Z" fill="#a49c3c" stroke="#1b1b1b" stroke-width="0.8"/>
<path d="M500.9 646.8L505.5 651.4L500.9 656.0L496.3 651.4Z" fill="#a49c3c" stroke="#1b1b1b" stroke-width="0.8"/>
<path d="M562.8 586.3L567.4 590.9L562.8 595.5L558.2 590.9Z" fill="#a49c3c" stroke="#1b1b1b" stroke-width="0.8"/>
<path d="M579.5 582.5L584.1 587.1L579.5 591.7L574.9 587.1Z" fill="#a49c3c" stroke="#1b1b1b" stroke-width="0.8"/>
<path d="M608.3 584.4L612.9 589.0L608.3 593.6L603.7 589.0Z" fill="#a49c3c" stroke="#1b1b1b" stroke-width="0.8"/>
<path d="M614.1 608.1L618.7 612.7L614.1 617.3L609.5 612.7Z" fill="#a49c3c" stroke="#1b1b1b" stroke-width="0.8"/>
<path d="M619.9 604.2L624.5 608.8L619.9 613.4L615.3 608.8Z" fill="#a49c3c" stroke="#1b1b1b" stroke-width="0.8"/>
<path d="M624.6 586.4L629.2 591.0L624.6 595.6L620.0 591.0Z" fill="#a49c3c" stroke="#1b1b1b" stroke-width="0.8"/>
<path d="M549.4 591.4L554.0 596.0L549.4 600.6L544.8 596.0Z" fill="#a49c3c" stroke="#1b1b1b" stroke-width="0.8"/>
<path d="M540.1 600.4L544.7 605.0L540.1 609.6L535.5 605.0Z" fill="#a49c3c" stroke="#1b1b1b" stroke-width="0.8"/>
<path d="M576.3 600.4L580.9 605.0L576.3 609.6L571.7 605.0Z" fill="#a49c3c" stroke="#1b1b1b" stroke-width="0.8"/>
<path d="M547.4 615.1L552.0 619.7L547.4 624.3L542.8 619.7Z" fill="#a49c3c" stroke="#1b1b1b" stroke-width="0.8"/>
<path d="M557.7 616.7L562.3 621.3L557.7 625.9L553.1 621.3Z" fill="#a49c3c" stroke="#1b1b1b" stroke-width="0.8"/>
<path d="M535.3 621.6L539.9 626.2L535.3 630.8L530.7 626.2Z" fill="#a49c3c" stroke="#1b1b1b" stroke-width="0.8"/>
<path d="M597.4 631.2L602.0 635.8L597.4 640.4L592.8 635.8Z" fill="#a49c3c" stroke="#1b1b1b" stroke-width="0.8"/>
<path d="M622.0 630.4L626.6 635.0L622.0 639.6L617.4 635.0Z" fill="#a49c3c" stroke="#1b1b1b" stroke-width="0.8"/>
<path d="M566.5 638.8L571.1 643.4L566.5 648.0L561.9 643.4Z" fill="#a49c3c" stroke="#1b1b1b" stroke-width="0.8"/>
<path d="M550.5 642.4L555.1 647.0L550.5 651.6L545.9 647.0Z" fill="#a49c3c" stroke="#1b1b1b" stroke-width="0.8"/>
<path d="M684.0 585.1L688.6 589.7L684.0 594.3L679.4 589.7Z" fill="#a49c3c" stroke="#1b1b1b" stroke-width="0.8"/>
<path d="M628.8 606.9L633.4 611.5L628.8 616.1L624.2 611.5Z" fill="#a49c3c" stroke="#1b1b1b" stroke-width="0.8"/>
<path d="M604.2 663.5L608.8 668.1L604.2 672.7L599.6 668.1Z" fill="#a49c3c" stroke="#1b1b1b" stroke-width="0.8"/>
<rect x="647.9" y="513.5" width="9.0" height="9.0" fill="#b02125" stroke="#1b1b1b" stroke-width="0.8"/>
<rect x="490.8" y="554.7" width="9.0" height="9.0" fill="#b02125" stroke="#1b1b1b" stroke-width="0.8"/>
<rect x="544.2" y="551.3" width="9.0" height="9.0" fill="#b02125" stroke="#1b1b1b" stroke-width="0.8"/>
<rect x="599.7" y="557.7" width="9.0" height="9.0" fill="#b02125" stroke="#1b1b1b" stroke-width="0.8"/>
<rect x="618.1" y="564.3" width="9.0" height="9.0" fill="#b02125" stroke="#1b1b1b" stroke-width="0.8"/>
<rect x="592.7" y="573.7" width="9.0" height="9.0" fill="#b02125" stroke="#1b1b1b" stroke-width="0.8"/>
<rect x="616.0" y="577.0" width="9.0" height="9.0" fill="#b02125" stroke="#1b1b1b" stroke-width="0.8"/>
<rect x="659.9" y="565.6" width="9.0" height="9.0" fill="#b02125" stroke="#1b1b1b" stroke-width="0.8"/>
<rect x="483.1" y="599.9" width="9.0" height="9.0" fill="#b02125" stroke="#1b1b1b" stroke-width="0.8"/>
<rect x="517.7" y="585.8" width="9.0" height="9.0" fill="#b02125" stroke="#1b1b1b" stroke-width="0.8"/>
<rect x="525.4" y="583.2" width="9.0" height="9.0" fill="#b02125" stroke="#1b1b1b" stroke-width="0.8"/>
<rect x="518.3" y="607.6" width="9.0" height="9.0" fill="#b02125" stroke="#1b1b1b" stroke-width="0.8"/>
<rect x="524.0" y="601.1" width="9.0" height="9.0" fill="#b02125" stroke="#1b1b1b" stroke-width="0.8"/>
<rect x="528.3" y="607.6" width="9.0" height="9.0" fill="#b02125" stroke="#1b1b1b" stroke-width="0.8"/>
<rect x="569.9" y="590.6" width="9.0" height="9.0" fill="#b02125" stroke="#1b1b1b" stroke-width="0.8"/>
<rect x="472.0" y="645.6" width="6.6" height="6.6" fill="#f2ccd6" stroke="#1b1b1b" stroke-width="0.8"/>
<rect x="543.7" y="643.9" width="6.6" height="6.6" fill="#f2ccd6" stroke="#1b1b1b" stroke-width="0.8"/>
<path d="M353.8 493.8L363.8 493.8L358.8 502.2Z" fill="#8c8c8c" stroke="#1b1b1b" stroke-width="0.8"/>
</g>
<g id="pc">
<rect x="210.8" y="382.2" width="544.8" height="378.1" fill="none" stroke="#7a7a7a" stroke-width="1"/>
<text transform="translate(711,423.8) scale(0.92,1)" font-weight="bold" font-size="30" fill="#000">c</text>
<line x1="208.6" y1="399.2" x2="210.8" y2="399.2" stroke="#555" stroke-width="1"/>
<text x="206.6" y="404.0" text-anchor="end" font-size="12" fill="#222">0.04</text>
<line x1="208.6" y1="485.4" x2="210.8" y2="485.4" stroke="#555" stroke-width="1"/>
<text x="206.6" y="490.2" text-anchor="end" font-size="12" fill="#222">0.02</text>
<line x1="208.6" y1="571.5" x2="210.8" y2="571.5" stroke="#555" stroke-width="1"/>
<text x="206.6" y="576.3" text-anchor="end" font-size="12" fill="#222">0.00</text>
<line x1="208.6" y1="657.6" x2="210.8" y2="657.6" stroke="#555" stroke-width="1"/>
<text x="206.6" y="662.4" text-anchor="end" font-size="12" fill="#222">−0.02</text>
<line x1="208.6" y1="743.8" x2="210.8" y2="743.8" stroke="#555" stroke-width="1"/>
<text x="206.6" y="748.6" text-anchor="end" font-size="12" fill="#222">−0.04</text>
<line x1="235.7" y1="760.3" x2="235.7" y2="762.6" stroke="#555" stroke-width="1"/>
<text x="235.7" y="773.6" text-anchor="middle" font-size="12" fill="#222">−0.04</text>
<line x1="359.6" y1="760.3" x2="359.6" y2="762.6" stroke="#555" stroke-width="1"/>
<text x="359.6" y="773.6" text-anchor="middle" font-size="12" fill="#222">−0.02</text>
<line x1="483.5" y1="760.3" x2="483.5" y2="762.6" stroke="#555" stroke-width="1"/>
<text x="483.5" y="773.6" text-anchor="middle" font-size="12" fill="#222">0.00</text>
<line x1="607.4" y1="760.3" x2="607.4" y2="762.6" stroke="#555" stroke-width="1"/>
<text x="607.4" y="773.6" text-anchor="middle" font-size="12" fill="#222">0.02</text>
<line x1="731.3" y1="760.3" x2="731.3" y2="762.6" stroke="#555" stroke-width="1"/>
<text x="731.3" y="773.6" text-anchor="middle" font-size="12" fill="#222">0.04</text>
<text x="483.5" y="796.5" text-anchor="middle" font-weight="bold" font-size="12" fill="#000" xml:space="preserve">PC1 =  33.2  %</text>
<text transform="translate(166.8,571.3) rotate(-90)" text-anchor="middle" font-weight="bold" font-size="12" fill="#000" xml:space="preserve">PC2 =  19.05  %</text>
</g>
<g id="leg">
<text x="9.6" y="501.9" font-weight="bold" font-size="14.85" fill="#000">Species</text>
<circle cx="15.1" cy="519.1" r="5.80" fill="#243a66" stroke="#222" stroke-width="0.9"/>
<text x="32.4" y="524.3" font-style="italic" font-size="14.8" fill="#111">C. buettikoferi</text>
<rect x="10.1" y="530.4" width="10.0" height="10.0" fill="#b02125" stroke="#222" stroke-width="0.9"/>
<text x="32.4" y="540.6" font-style="italic" font-size="14.8" fill="#111">C. cf. grandiceps</text>
<path d="M15.1 544.8L22.1 551.8L15.1 558.8L8.1 551.8Z" fill="#165f60" stroke="#222" stroke-width="0.9"/>
<text x="32.4" y="557.0" font-style="italic" font-size="14.8" fill="#111">C. foxi</text>
<path d="M15.1 559.9L22.9 572.3L7.3 572.3Z" fill="#cf6420" stroke="#222" stroke-width="0.9"/>
<text x="32.4" y="573.3" font-style="italic" font-size="14.8" fill="#111">C. grandiceps</text>
<path d="M7.3 580.2L22.9 580.2L15.1 592.6Z" fill="#d6a088" stroke="#222" stroke-width="0.9"/>
<text x="32.4" y="589.6" font-style="italic" font-size="14.8" fill="#111">C. longipes</text>
<circle cx="15.1" cy="600.8" r="3.50" fill="#4b86c9" stroke="#222" stroke-width="0.9"/>
<text x="32.4" y="606.0" font-style="italic" font-size="14.8" fill="#111">C. poensis</text>
<rect x="11.6" y="613.6" width="7.0" height="7.0" fill="#f2ccd6" stroke="#222" stroke-width="0.9"/>
<text x="32.4" y="622.3" font-style="italic" font-size="14.8" fill="#111">C. similiturba</text>
<path d="M15.1 628.9L19.6 633.4L15.1 637.9L10.6 633.4Z" fill="#a49c3c" stroke="#222" stroke-width="0.9"/>
<text x="32.4" y="638.6" font-style="italic" font-size="14.8" fill="#111">C. theresae</text>
<path d="M15.1 644.5L20.2 652.6L10.0 652.6Z" fill="#6b2232" stroke="#222" stroke-width="0.9"/>
<text x="32.4" y="654.9" font-style="italic" font-size="14.8" fill="#111">C. turba</text>
<path d="M10.0 664.0L20.2 664.0L15.1 672.1Z" fill="#8c8c8c" stroke="#222" stroke-width="0.9"/>
<text x="32.4" y="671.3" font-style="italic" font-size="14.8" fill="#111">C. wimmeri</text>
</g>
</svg></body></html>
